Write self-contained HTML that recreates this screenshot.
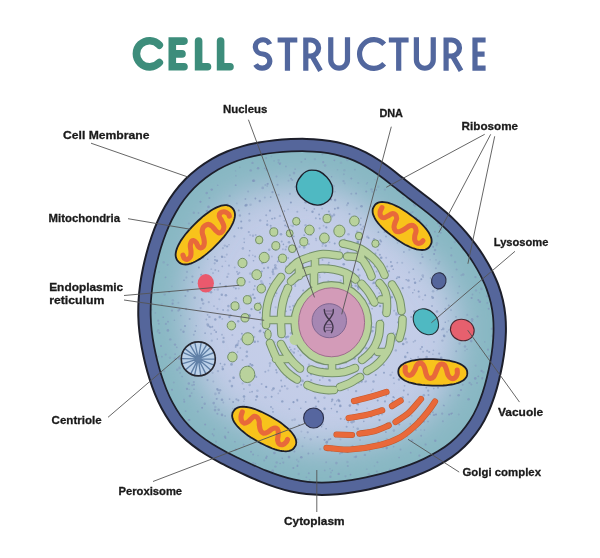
<!DOCTYPE html>
<html><head><meta charset="utf-8"><title>Cell Structure</title>
<style>
html,body{margin:0;padding:0;background:#fff;}
body{width:600px;height:558px;overflow:hidden;}
svg{display:block;}
text{font-family:"Liberation Sans",sans-serif;}
</style></head><body>
<svg width="600" height="558" viewBox="0 0 600 558">
<defs>
<radialGradient id="cyto" gradientUnits="userSpaceOnUse" cx="325" cy="318" r="185" gradientTransform="translate(325 318) scale(1 0.97) translate(-325 -318)">
<stop offset="0" stop-color="#c8d0ea"/>
<stop offset="0.6" stop-color="#c2cce7"/>
<stop offset="1" stop-color="#b4c4de"/>
</radialGradient>
<filter id="blur" x="-10%" y="-10%" width="120%" height="120%"><feGaussianBlur stdDeviation="16"/></filter>
<clipPath id="cc"><path d="M138.3,316C138.2,310.7 138.3,305.4 138.6,300C138.9,294.6 139.5,289.2 140.2,283.9C140.9,278.6 141.9,273.3 143,268C144.1,262.7 145.4,257.4 146.8,252.2C148.2,246.9 149.8,241.7 151.6,236.5C153.4,231.3 155.3,226.2 157.6,221.1C159.8,216 162.3,211 165.1,206.2C167.9,201.4 170.9,196.6 174.3,192.1C177.7,187.6 181.4,183.3 185.3,179.3C189.2,175.3 193.5,171.6 197.9,168.2C202.3,164.8 207.2,161.6 212,158.8C216.8,156 221.9,153.6 227,151.5C232.1,149.4 237.5,147.6 242.8,146.1C248.1,144.6 253.5,143.5 258.8,142.5C264.1,141.5 269.6,140.8 274.9,140.2C280.2,139.6 285.5,139.3 290.8,139.1C296.1,138.9 301.3,138.8 306.5,138.9C311.7,139 316.9,139.4 322,139.9C327.1,140.4 332.2,141.1 337.2,142.2C342.2,143.3 347.1,144.7 351.9,146.4C356.7,148.1 361.3,150.1 365.8,152.4C370.3,154.7 374.6,157.3 378.8,160C383,162.7 386.9,165.6 390.8,168.5C394.7,171.4 398.3,174.5 402,177.4C405.7,180.3 409.3,183.2 413,186C416.7,188.8 420.3,191.7 424,194.5C427.7,197.3 431.4,200.1 435,203C438.6,205.9 442.2,208.9 445.8,212.1C449.4,215.2 453,218.5 456.4,221.9C459.8,225.3 463.1,228.9 466.3,232.7C469.5,236.4 472.6,240.4 475.6,244.4C478.6,248.4 481.5,252.5 484.2,256.9C486.9,261.2 489.5,265.8 491.9,270.5C494.2,275.2 496.5,279.9 498.3,284.9C500.1,289.8 501.7,295 502.9,300.2C504.1,305.4 504.9,310.7 505.4,316C505.9,321.3 506,326.7 505.9,332.1C505.8,337.5 505.4,342.8 504.8,348.2C504.2,353.6 503.4,358.9 502.4,364.3C501.4,369.7 500.2,375 498.9,380.4C497.6,385.8 496.1,391.1 494.4,396.4C492.6,401.7 490.7,407 488.4,412.1C486.1,417.2 483.5,422.3 480.5,427C477.5,431.7 474,436.3 470.3,440.5C466.6,444.7 462.5,448.6 458.2,452.2C453.9,455.8 449.1,459 444.4,461.9C439.6,464.8 434.7,467.4 429.7,469.8C424.7,472.2 419.6,474.3 414.5,476.2C409.4,478.1 404.2,479.8 399.1,481.4C394,483 388.9,484.5 383.8,485.8C378.7,487.1 373.6,488.3 368.5,489.4C363.4,490.5 358.2,491.5 353.1,492.3C348,493.1 342.8,493.8 337.6,494.2C332.4,494.6 327.2,494.9 322,494.9C316.8,494.9 311.6,494.7 306.4,494.1C301.2,493.5 296.1,492.6 291,491.5C285.9,490.4 281,489 276.1,487.4C271.2,485.8 266.4,484 261.6,482.1C256.8,480.2 252.1,478.1 247.4,476C242.7,473.9 238.1,471.7 233.4,469.4C228.8,467.1 224.1,464.9 219.5,462.4C214.9,459.9 210.3,457.3 205.8,454.5C201.3,451.7 196.8,448.7 192.6,445.4C188.4,442.1 184.2,438.5 180.5,434.7C176.8,430.9 173.3,426.7 170.2,422.3C167.1,417.9 164.2,413.2 161.7,408.5C159.1,403.8 156.9,398.8 154.9,393.9C152.9,388.9 151.1,383.9 149.5,378.8C147.9,373.7 146.5,368.6 145.2,363.4C143.9,358.2 142.8,353 141.8,347.8C140.8,342.6 140,337.3 139.4,332C138.8,326.7 138.4,321.3 138.3,316Z"/></clipPath>
</defs>
<rect width="600" height="558" fill="#fff"/>
<g fill="none" stroke="#3d8d7b" stroke-width="7.6" stroke-linecap="round" stroke-linejoin="miter">
<path d="M159.3,45.1 A13.1,13.1 0 1 0 159.3,62.5"/>
<path d="M184,41.1 H172.3 V66.7 H184 M172.3,53.9 H182"/>
<path d="M198.6,41.1 V66.7 H207.5"/>
<path d="M220.6,41.1 V66.7 H230"/>
</g>
<g fill="none" stroke="#52679e" stroke-width="5.2" stroke-linecap="butt" stroke-linejoin="miter">
<path d="M269.8,44.2 A7.5,7.1 0 1 0 262.7,54 A7.5,7.1 0 1 1 255.6,64.4"/>
<path d="M277.6,40 H297.3 M287.45,40 V70.7"/>
<path d="M305.8,70.7 V40 H310.6 A8,8 0 0 1 310.6,56 H305.8 M312,56 L320.5,70.7"/>
<path d="M330.75,37.3 V59.8 A8.375,8.375 0 0 0 347.5,59.8 V37.3"/>
<path d="M384.2,44.3 A14.2,14.4 0 1 0 384.2,63.8"/>
<path d="M388.85,40 H408.6 M398.7,40 V70.7"/>
<path d="M416.4,37.3 V59.8 A8.425,8.425 0 0 0 433.25,59.8 V37.3"/>
<path d="M446.1,70.7 V40 H451.5 A8,8 0 0 1 451.5,56 H446.1 M452.5,56 L461,70.7"/>
<path d="M485.6,40 H475 V68.1 H485.6 M475,54.1 H484.6"/>
</g>
<g clip-path="url(#cc)"><path d="M138.3,316C138.2,310.7 138.3,305.4 138.6,300C138.9,294.6 139.5,289.2 140.2,283.9C140.9,278.6 141.9,273.3 143,268C144.1,262.7 145.4,257.4 146.8,252.2C148.2,246.9 149.8,241.7 151.6,236.5C153.4,231.3 155.3,226.2 157.6,221.1C159.8,216 162.3,211 165.1,206.2C167.9,201.4 170.9,196.6 174.3,192.1C177.7,187.6 181.4,183.3 185.3,179.3C189.2,175.3 193.5,171.6 197.9,168.2C202.3,164.8 207.2,161.6 212,158.8C216.8,156 221.9,153.6 227,151.5C232.1,149.4 237.5,147.6 242.8,146.1C248.1,144.6 253.5,143.5 258.8,142.5C264.1,141.5 269.6,140.8 274.9,140.2C280.2,139.6 285.5,139.3 290.8,139.1C296.1,138.9 301.3,138.8 306.5,138.9C311.7,139 316.9,139.4 322,139.9C327.1,140.4 332.2,141.1 337.2,142.2C342.2,143.3 347.1,144.7 351.9,146.4C356.7,148.1 361.3,150.1 365.8,152.4C370.3,154.7 374.6,157.3 378.8,160C383,162.7 386.9,165.6 390.8,168.5C394.7,171.4 398.3,174.5 402,177.4C405.7,180.3 409.3,183.2 413,186C416.7,188.8 420.3,191.7 424,194.5C427.7,197.3 431.4,200.1 435,203C438.6,205.9 442.2,208.9 445.8,212.1C449.4,215.2 453,218.5 456.4,221.9C459.8,225.3 463.1,228.9 466.3,232.7C469.5,236.4 472.6,240.4 475.6,244.4C478.6,248.4 481.5,252.5 484.2,256.9C486.9,261.2 489.5,265.8 491.9,270.5C494.2,275.2 496.5,279.9 498.3,284.9C500.1,289.8 501.7,295 502.9,300.2C504.1,305.4 504.9,310.7 505.4,316C505.9,321.3 506,326.7 505.9,332.1C505.8,337.5 505.4,342.8 504.8,348.2C504.2,353.6 503.4,358.9 502.4,364.3C501.4,369.7 500.2,375 498.9,380.4C497.6,385.8 496.1,391.1 494.4,396.4C492.6,401.7 490.7,407 488.4,412.1C486.1,417.2 483.5,422.3 480.5,427C477.5,431.7 474,436.3 470.3,440.5C466.6,444.7 462.5,448.6 458.2,452.2C453.9,455.8 449.1,459 444.4,461.9C439.6,464.8 434.7,467.4 429.7,469.8C424.7,472.2 419.6,474.3 414.5,476.2C409.4,478.1 404.2,479.8 399.1,481.4C394,483 388.9,484.5 383.8,485.8C378.7,487.1 373.6,488.3 368.5,489.4C363.4,490.5 358.2,491.5 353.1,492.3C348,493.1 342.8,493.8 337.6,494.2C332.4,494.6 327.2,494.9 322,494.9C316.8,494.9 311.6,494.7 306.4,494.1C301.2,493.5 296.1,492.6 291,491.5C285.9,490.4 281,489 276.1,487.4C271.2,485.8 266.4,484 261.6,482.1C256.8,480.2 252.1,478.1 247.4,476C242.7,473.9 238.1,471.7 233.4,469.4C228.8,467.1 224.1,464.9 219.5,462.4C214.9,459.9 210.3,457.3 205.8,454.5C201.3,451.7 196.8,448.7 192.6,445.4C188.4,442.1 184.2,438.5 180.5,434.7C176.8,430.9 173.3,426.7 170.2,422.3C167.1,417.9 164.2,413.2 161.7,408.5C159.1,403.8 156.9,398.8 154.9,393.9C152.9,388.9 151.1,383.9 149.5,378.8C147.9,373.7 146.5,368.6 145.2,363.4C143.9,358.2 142.8,353 141.8,347.8C140.8,342.6 140,337.3 139.4,332C138.8,326.7 138.4,321.3 138.3,316Z" fill="url(#cyto)"/><path d="M138.3,316C138.2,310.7 138.3,305.4 138.6,300C138.9,294.6 139.5,289.2 140.2,283.9C140.9,278.6 141.9,273.3 143,268C144.1,262.7 145.4,257.4 146.8,252.2C148.2,246.9 149.8,241.7 151.6,236.5C153.4,231.3 155.3,226.2 157.6,221.1C159.8,216 162.3,211 165.1,206.2C167.9,201.4 170.9,196.6 174.3,192.1C177.7,187.6 181.4,183.3 185.3,179.3C189.2,175.3 193.5,171.6 197.9,168.2C202.3,164.8 207.2,161.6 212,158.8C216.8,156 221.9,153.6 227,151.5C232.1,149.4 237.5,147.6 242.8,146.1C248.1,144.6 253.5,143.5 258.8,142.5C264.1,141.5 269.6,140.8 274.9,140.2C280.2,139.6 285.5,139.3 290.8,139.1C296.1,138.9 301.3,138.8 306.5,138.9C311.7,139 316.9,139.4 322,139.9C327.1,140.4 332.2,141.1 337.2,142.2C342.2,143.3 347.1,144.7 351.9,146.4C356.7,148.1 361.3,150.1 365.8,152.4C370.3,154.7 374.6,157.3 378.8,160C383,162.7 386.9,165.6 390.8,168.5C394.7,171.4 398.3,174.5 402,177.4C405.7,180.3 409.3,183.2 413,186C416.7,188.8 420.3,191.7 424,194.5C427.7,197.3 431.4,200.1 435,203C438.6,205.9 442.2,208.9 445.8,212.1C449.4,215.2 453,218.5 456.4,221.9C459.8,225.3 463.1,228.9 466.3,232.7C469.5,236.4 472.6,240.4 475.6,244.4C478.6,248.4 481.5,252.5 484.2,256.9C486.9,261.2 489.5,265.8 491.9,270.5C494.2,275.2 496.5,279.9 498.3,284.9C500.1,289.8 501.7,295 502.9,300.2C504.1,305.4 504.9,310.7 505.4,316C505.9,321.3 506,326.7 505.9,332.1C505.8,337.5 505.4,342.8 504.8,348.2C504.2,353.6 503.4,358.9 502.4,364.3C501.4,369.7 500.2,375 498.9,380.4C497.6,385.8 496.1,391.1 494.4,396.4C492.6,401.7 490.7,407 488.4,412.1C486.1,417.2 483.5,422.3 480.5,427C477.5,431.7 474,436.3 470.3,440.5C466.6,444.7 462.5,448.6 458.2,452.2C453.9,455.8 449.1,459 444.4,461.9C439.6,464.8 434.7,467.4 429.7,469.8C424.7,472.2 419.6,474.3 414.5,476.2C409.4,478.1 404.2,479.8 399.1,481.4C394,483 388.9,484.5 383.8,485.8C378.7,487.1 373.6,488.3 368.5,489.4C363.4,490.5 358.2,491.5 353.1,492.3C348,493.1 342.8,493.8 337.6,494.2C332.4,494.6 327.2,494.9 322,494.9C316.8,494.9 311.6,494.7 306.4,494.1C301.2,493.5 296.1,492.6 291,491.5C285.9,490.4 281,489 276.1,487.4C271.2,485.8 266.4,484 261.6,482.1C256.8,480.2 252.1,478.1 247.4,476C242.7,473.9 238.1,471.7 233.4,469.4C228.8,467.1 224.1,464.9 219.5,462.4C214.9,459.9 210.3,457.3 205.8,454.5C201.3,451.7 196.8,448.7 192.6,445.4C188.4,442.1 184.2,438.5 180.5,434.7C176.8,430.9 173.3,426.7 170.2,422.3C167.1,417.9 164.2,413.2 161.7,408.5C159.1,403.8 156.9,398.8 154.9,393.9C152.9,388.9 151.1,383.9 149.5,378.8C147.9,373.7 146.5,368.6 145.2,363.4C143.9,358.2 142.8,353 141.8,347.8C140.8,342.6 140,337.3 139.4,332C138.8,326.7 138.4,321.3 138.3,316Z" fill="none" stroke="#87b7c2" stroke-width="90" filter="url(#blur)"/><g fill="#8094bb"><circle cx="305.1" cy="337.8" r="1" opacity="0.55"/><circle cx="452.1" cy="205.8" r="1" opacity="0.63"/><circle cx="250.7" cy="170.4" r="1.2" opacity="0.64"/><circle cx="357.3" cy="279.4" r="1.2" opacity="0.63"/><circle cx="309.3" cy="295.3" r="1.1" opacity="0.46"/><circle cx="232.7" cy="408.6" r="0.8" opacity="0.38"/><circle cx="419.7" cy="280.9" r="1" opacity="0.38"/><circle cx="159.1" cy="272" r="1" opacity="0.38"/><circle cx="369.8" cy="415.9" r="0.8" opacity="0.49"/><circle cx="309.7" cy="311.8" r="0.9" opacity="0.55"/><circle cx="375" cy="179.6" r="0.9" opacity="0.35"/><circle cx="362.8" cy="434.4" r="0.8" opacity="0.39"/><circle cx="352.7" cy="224.8" r="1" opacity="0.63"/><circle cx="186.4" cy="347.7" r="0.9" opacity="0.74"/><circle cx="206.7" cy="193" r="1.3" opacity="0.62"/><circle cx="404.8" cy="194.6" r="1.1" opacity="0.44"/><circle cx="360.3" cy="288.5" r="0.8" opacity="0.58"/><circle cx="233.1" cy="402.1" r="1" opacity="0.72"/><circle cx="357.7" cy="242.8" r="1.2" opacity="0.79"/><circle cx="186.1" cy="309.1" r="1.1" opacity="0.63"/><circle cx="274.6" cy="342.3" r="1" opacity="0.41"/><circle cx="304.4" cy="256.2" r="1.1" opacity="0.61"/><circle cx="316" cy="398.8" r="0.8" opacity="0.38"/><circle cx="339.3" cy="401.1" r="1.2" opacity="0.68"/><circle cx="264.7" cy="168.3" r="0.8" opacity="0.74"/><circle cx="292.3" cy="420.2" r="1.1" opacity="0.36"/><circle cx="260.5" cy="471.5" r="1" opacity="0.55"/><circle cx="359.5" cy="309.7" r="1.2" opacity="0.40"/><circle cx="424.7" cy="373.7" r="0.8" opacity="0.52"/><circle cx="192.3" cy="356.4" r="1.3" opacity="0.76"/><circle cx="380.9" cy="295.8" r="1" opacity="0.53"/><circle cx="231.5" cy="364.4" r="1.3" opacity="0.76"/><circle cx="461.3" cy="275.2" r="1" opacity="0.44"/><circle cx="189.1" cy="263.2" r="0.8" opacity="0.67"/><circle cx="201.7" cy="298.9" r="0.9" opacity="0.72"/><circle cx="279.6" cy="323.6" r="1.2" opacity="0.73"/><circle cx="398.7" cy="341.7" r="1.3" opacity="0.60"/><circle cx="374" cy="282.7" r="1.3" opacity="0.72"/><circle cx="369.7" cy="297.4" r="1.2" opacity="0.64"/><circle cx="440.7" cy="229.4" r="1.3" opacity="0.56"/><circle cx="266.2" cy="386.9" r="1.1" opacity="0.80"/><circle cx="395.4" cy="217.9" r="1.2" opacity="0.52"/><circle cx="304.4" cy="208.3" r="0.8" opacity="0.52"/><circle cx="347.6" cy="451.9" r="1" opacity="0.56"/><circle cx="377.7" cy="211.1" r="1.3" opacity="0.71"/><circle cx="293.8" cy="236.3" r="0.9" opacity="0.71"/><circle cx="203.1" cy="257.6" r="0.9" opacity="0.56"/><circle cx="329.1" cy="380" r="1" opacity="0.61"/><circle cx="391.5" cy="408.5" r="1.1" opacity="0.48"/><circle cx="406" cy="366.1" r="1.3" opacity="0.76"/><circle cx="233.6" cy="377.7" r="1.3" opacity="0.76"/><circle cx="216" cy="441.7" r="1.1" opacity="0.47"/><circle cx="321.6" cy="284.8" r="0.8" opacity="0.62"/><circle cx="328.3" cy="281" r="1.1" opacity="0.40"/><circle cx="479.8" cy="301.8" r="1.3" opacity="0.77"/><circle cx="238.3" cy="306.9" r="1" opacity="0.76"/><circle cx="331.6" cy="176.8" r="0.8" opacity="0.77"/><circle cx="210.8" cy="219.1" r="1" opacity="0.68"/><circle cx="229.2" cy="316.1" r="1.1" opacity="0.41"/><circle cx="326.3" cy="227.4" r="1.1" opacity="0.75"/><circle cx="441.2" cy="357.8" r="1.3" opacity="0.63"/><circle cx="373" cy="327.1" r="1.1" opacity="0.61"/><circle cx="369.2" cy="262.1" r="1.1" opacity="0.49"/><circle cx="188.9" cy="223.4" r="1" opacity="0.52"/><circle cx="298.7" cy="474" r="1.2" opacity="0.41"/><circle cx="213.3" cy="381.6" r="1" opacity="0.40"/><circle cx="324.6" cy="408.7" r="1.2" opacity="0.72"/><circle cx="418.1" cy="357" r="1" opacity="0.42"/><circle cx="207.4" cy="210.8" r="1" opacity="0.77"/><circle cx="487.3" cy="303" r="1" opacity="0.53"/><circle cx="295.7" cy="264.6" r="1" opacity="0.36"/><circle cx="305.7" cy="401.9" r="0.9" opacity="0.62"/><circle cx="258.1" cy="168.3" r="1.3" opacity="0.76"/><circle cx="353.4" cy="259.7" r="1" opacity="0.76"/><circle cx="411.7" cy="415.7" r="1" opacity="0.41"/><circle cx="260.4" cy="330.4" r="1" opacity="0.69"/><circle cx="269.8" cy="366" r="0.9" opacity="0.47"/><circle cx="168" cy="321.7" r="0.9" opacity="0.67"/><circle cx="409.7" cy="229.6" r="0.8" opacity="0.69"/><circle cx="234.4" cy="236.4" r="1.1" opacity="0.58"/><circle cx="493" cy="340.8" r="1.2" opacity="0.55"/><circle cx="375.3" cy="334.1" r="0.8" opacity="0.52"/><circle cx="482.6" cy="275.8" r="1.3" opacity="0.57"/><circle cx="363.1" cy="158.9" r="1" opacity="0.48"/><circle cx="285.5" cy="249.5" r="1" opacity="0.64"/><circle cx="344.6" cy="239.2" r="1" opacity="0.36"/><circle cx="422" cy="347.1" r="1" opacity="0.69"/><circle cx="282.3" cy="458.4" r="0.8" opacity="0.61"/><circle cx="403.9" cy="252" r="0.9" opacity="0.54"/><circle cx="331" cy="472.6" r="1" opacity="0.41"/><circle cx="292.3" cy="180.1" r="1" opacity="0.59"/><circle cx="185.4" cy="296.1" r="1" opacity="0.62"/><circle cx="373.5" cy="381.5" r="1.2" opacity="0.59"/><circle cx="368.1" cy="266.2" r="1.2" opacity="0.68"/><circle cx="323.3" cy="371.1" r="1.2" opacity="0.37"/><circle cx="295.2" cy="360.5" r="1.1" opacity="0.48"/><circle cx="198.7" cy="221.8" r="1" opacity="0.57"/><circle cx="216.9" cy="260.7" r="1.3" opacity="0.74"/><circle cx="432.8" cy="297.7" r="1.3" opacity="0.70"/><circle cx="217.8" cy="289.5" r="1.3" opacity="0.42"/><circle cx="357.8" cy="241.8" r="1.3" opacity="0.76"/><circle cx="296.1" cy="269.8" r="1" opacity="0.39"/><circle cx="170.3" cy="339.4" r="1.2" opacity="0.56"/><circle cx="253.2" cy="463.1" r="1.2" opacity="0.49"/><circle cx="404.6" cy="385.8" r="0.9" opacity="0.45"/><circle cx="379.9" cy="254.8" r="1" opacity="0.67"/><circle cx="347.8" cy="465.9" r="1" opacity="0.55"/><circle cx="433.1" cy="246.8" r="1" opacity="0.79"/><circle cx="387.1" cy="346.8" r="1.2" opacity="0.60"/><circle cx="430.9" cy="331" r="1.1" opacity="0.43"/><circle cx="172.8" cy="300.2" r="1.3" opacity="0.36"/><circle cx="328.2" cy="332.3" r="0.8" opacity="0.64"/><circle cx="371.5" cy="189.4" r="1.2" opacity="0.54"/><circle cx="400" cy="312.6" r="1" opacity="0.69"/><circle cx="283.9" cy="258.6" r="1.2" opacity="0.41"/><circle cx="365.6" cy="154.5" r="1.2" opacity="0.51"/><circle cx="172.6" cy="303.9" r="0.8" opacity="0.59"/><circle cx="399.2" cy="424.4" r="1" opacity="0.76"/><circle cx="229.7" cy="195.9" r="1.2" opacity="0.43"/><circle cx="214.6" cy="289.7" r="0.8" opacity="0.56"/><circle cx="315.6" cy="423.7" r="0.9" opacity="0.43"/><circle cx="219.3" cy="222" r="1.1" opacity="0.58"/><circle cx="301.3" cy="457.3" r="1.3" opacity="0.77"/><circle cx="368.8" cy="474.3" r="1.3" opacity="0.47"/><circle cx="264.9" cy="333.4" r="1" opacity="0.74"/><circle cx="430.1" cy="414.4" r="0.8" opacity="0.65"/><circle cx="312.5" cy="270.6" r="1.2" opacity="0.54"/><circle cx="459.3" cy="286.4" r="0.9" opacity="0.47"/><circle cx="457.3" cy="322.3" r="1.1" opacity="0.47"/><circle cx="335.1" cy="191.8" r="0.8" opacity="0.44"/><circle cx="186.9" cy="263.6" r="1.1" opacity="0.39"/><circle cx="315.2" cy="305.3" r="1.1" opacity="0.59"/><circle cx="208.5" cy="206.9" r="1.3" opacity="0.72"/><circle cx="216.1" cy="332" r="0.9" opacity="0.78"/><circle cx="288" cy="336.6" r="1.2" opacity="0.67"/><circle cx="283.9" cy="302.8" r="1.3" opacity="0.40"/><circle cx="302.5" cy="446.3" r="1" opacity="0.46"/><circle cx="215.5" cy="357.9" r="1" opacity="0.77"/><circle cx="253" cy="235.7" r="1.2" opacity="0.50"/><circle cx="387.4" cy="390.9" r="1" opacity="0.37"/><circle cx="309.1" cy="389.3" r="0.8" opacity="0.42"/><circle cx="476" cy="290.4" r="1.2" opacity="0.44"/><circle cx="194" cy="384.8" r="1" opacity="0.63"/><circle cx="405.3" cy="356.9" r="1.3" opacity="0.71"/><circle cx="260.8" cy="260.2" r="0.8" opacity="0.60"/><circle cx="214.8" cy="256.8" r="0.8" opacity="0.63"/><circle cx="197.8" cy="411.6" r="1.1" opacity="0.46"/><circle cx="363.4" cy="321.3" r="0.9" opacity="0.79"/><circle cx="328.4" cy="393.4" r="0.9" opacity="0.61"/><circle cx="423.5" cy="186.7" r="1" opacity="0.66"/><circle cx="309" cy="182.3" r="0.9" opacity="0.46"/><circle cx="347.8" cy="333" r="1" opacity="0.43"/><circle cx="272.7" cy="408.7" r="0.9" opacity="0.43"/><circle cx="385" cy="401.4" r="1.1" opacity="0.64"/><circle cx="288.1" cy="258" r="0.9" opacity="0.61"/><circle cx="384.9" cy="189.7" r="1.1" opacity="0.40"/><circle cx="266.1" cy="458.1" r="1.1" opacity="0.69"/><circle cx="414.4" cy="311.4" r="1.3" opacity="0.76"/><circle cx="260.6" cy="323.9" r="0.8" opacity="0.49"/><circle cx="468.6" cy="399.3" r="1.3" opacity="0.71"/><circle cx="313.6" cy="175.6" r="1.1" opacity="0.49"/><circle cx="383" cy="447.3" r="1.3" opacity="0.42"/><circle cx="377.1" cy="288.5" r="0.8" opacity="0.39"/><circle cx="229" cy="244.8" r="0.8" opacity="0.55"/><circle cx="304.3" cy="327.4" r="1.2" opacity="0.61"/><circle cx="468" cy="247.9" r="1.3" opacity="0.79"/><circle cx="312.5" cy="211.7" r="1.2" opacity="0.75"/><circle cx="312.5" cy="199.4" r="1.1" opacity="0.44"/><circle cx="370.8" cy="206.4" r="0.8" opacity="0.64"/><circle cx="251.7" cy="429.9" r="1" opacity="0.74"/><circle cx="400.3" cy="186.2" r="1.3" opacity="0.55"/><circle cx="252.1" cy="391.7" r="0.9" opacity="0.67"/><circle cx="323" cy="243.5" r="1.3" opacity="0.65"/><circle cx="249.8" cy="468.8" r="1" opacity="0.41"/><circle cx="383.7" cy="303.2" r="1.1" opacity="0.38"/><circle cx="354.1" cy="329.8" r="1.1" opacity="0.39"/><circle cx="241.9" cy="333.7" r="0.9" opacity="0.79"/><circle cx="152.3" cy="302.8" r="1" opacity="0.35"/><circle cx="472" cy="252.5" r="0.8" opacity="0.58"/><circle cx="324.6" cy="439.8" r="1.1" opacity="0.68"/><circle cx="334.1" cy="350" r="0.8" opacity="0.62"/><circle cx="225.9" cy="295.2" r="1.3" opacity="0.67"/><circle cx="403.4" cy="230.7" r="1.3" opacity="0.61"/><circle cx="322.1" cy="150.6" r="1.2" opacity="0.37"/><circle cx="362" cy="355.3" r="1.1" opacity="0.55"/><circle cx="471.2" cy="341.1" r="1.3" opacity="0.67"/><circle cx="393.9" cy="430.6" r="1.3" opacity="0.47"/><circle cx="354.9" cy="169.6" r="0.9" opacity="0.52"/><circle cx="230.6" cy="315.4" r="1.1" opacity="0.70"/><circle cx="155.4" cy="312.8" r="0.9" opacity="0.42"/><circle cx="283.4" cy="244.4" r="0.8" opacity="0.79"/><circle cx="388.1" cy="394" r="1.1" opacity="0.45"/><circle cx="232.4" cy="335" r="1" opacity="0.39"/><circle cx="222.9" cy="248.2" r="1.1" opacity="0.45"/><circle cx="198.5" cy="346.9" r="1.2" opacity="0.50"/><circle cx="393.6" cy="446.6" r="0.9" opacity="0.56"/><circle cx="283.4" cy="439" r="1.3" opacity="0.37"/><circle cx="292.7" cy="226" r="1.3" opacity="0.42"/><circle cx="214.3" cy="214.6" r="1" opacity="0.56"/><circle cx="318.9" cy="361.7" r="1" opacity="0.44"/><circle cx="279.8" cy="164" r="1" opacity="0.78"/><circle cx="366.7" cy="323.2" r="1.1" opacity="0.53"/><circle cx="481.9" cy="266.4" r="1.2" opacity="0.73"/><circle cx="446.2" cy="298.6" r="1" opacity="0.50"/><circle cx="254" cy="289.4" r="0.9" opacity="0.58"/><circle cx="340.1" cy="250" r="1" opacity="0.42"/><circle cx="214.8" cy="238.1" r="1" opacity="0.41"/><circle cx="328.6" cy="265" r="1" opacity="0.51"/><circle cx="346.6" cy="426.7" r="1" opacity="0.65"/><circle cx="343.7" cy="264.2" r="1.3" opacity="0.74"/><circle cx="296.1" cy="278.1" r="1" opacity="0.77"/><circle cx="243.9" cy="389.1" r="1" opacity="0.44"/><circle cx="420.4" cy="263.2" r="1.1" opacity="0.39"/><circle cx="264.8" cy="288.8" r="1.1" opacity="0.47"/><circle cx="451.3" cy="248.1" r="1" opacity="0.40"/><circle cx="239.3" cy="272.7" r="1" opacity="0.56"/><circle cx="266.7" cy="456.4" r="1" opacity="0.72"/><circle cx="157.4" cy="331.8" r="0.8" opacity="0.47"/><circle cx="189.6" cy="319" r="1" opacity="0.56"/><circle cx="330" cy="468.8" r="0.8" opacity="0.46"/><circle cx="320.2" cy="370.1" r="1.1" opacity="0.72"/><circle cx="462.7" cy="384.7" r="1" opacity="0.51"/><circle cx="463.5" cy="249.9" r="1.2" opacity="0.53"/><circle cx="261.6" cy="384.1" r="1" opacity="0.52"/><circle cx="244.3" cy="405.4" r="0.9" opacity="0.64"/><circle cx="272.2" cy="390.1" r="1.2" opacity="0.41"/><circle cx="304.8" cy="413.6" r="0.9" opacity="0.63"/><circle cx="290.6" cy="310.1" r="1" opacity="0.58"/><circle cx="430.7" cy="278" r="1" opacity="0.52"/><circle cx="389.2" cy="203.5" r="0.9" opacity="0.73"/><circle cx="442.4" cy="340.6" r="1.2" opacity="0.41"/><circle cx="213.3" cy="359.8" r="1.2" opacity="0.43"/><circle cx="188.8" cy="383.5" r="1.2" opacity="0.65"/><circle cx="281.1" cy="380.5" r="0.9" opacity="0.67"/><circle cx="244.4" cy="399.1" r="0.8" opacity="0.53"/><circle cx="164.6" cy="294.6" r="1.2" opacity="0.48"/><circle cx="283" cy="358.5" r="1.1" opacity="0.53"/><circle cx="393.3" cy="332.9" r="0.9" opacity="0.55"/><circle cx="444.4" cy="336.6" r="1" opacity="0.54"/><circle cx="238.6" cy="341.1" r="1" opacity="0.47"/><circle cx="223.1" cy="310.1" r="1" opacity="0.60"/><circle cx="262.7" cy="187.9" r="1.3" opacity="0.53"/><circle cx="344.3" cy="337" r="1.1" opacity="0.65"/><circle cx="367.4" cy="236.9" r="1.3" opacity="0.46"/><circle cx="433.9" cy="341.9" r="0.8" opacity="0.43"/><circle cx="271" cy="407" r="1.1" opacity="0.56"/><circle cx="273" cy="411.8" r="0.9" opacity="0.71"/><circle cx="408.4" cy="280.5" r="1.3" opacity="0.65"/><circle cx="432.9" cy="412.2" r="1" opacity="0.53"/><circle cx="397.4" cy="227.4" r="0.8" opacity="0.35"/><circle cx="191.4" cy="253.5" r="1.1" opacity="0.65"/><circle cx="435.9" cy="268.2" r="1" opacity="0.49"/><circle cx="164.3" cy="371.2" r="1" opacity="0.50"/><circle cx="410.7" cy="213.4" r="1.1" opacity="0.49"/><circle cx="355" cy="344.6" r="1" opacity="0.78"/><circle cx="220.2" cy="283.7" r="0.9" opacity="0.72"/><circle cx="165.5" cy="277.3" r="0.9" opacity="0.70"/><circle cx="406.5" cy="374.5" r="0.8" opacity="0.45"/><circle cx="364.9" cy="454.9" r="1.2" opacity="0.54"/><circle cx="184.3" cy="401.7" r="1" opacity="0.65"/><circle cx="293.1" cy="275.3" r="1.1" opacity="0.59"/><circle cx="332.8" cy="299.2" r="0.8" opacity="0.62"/><circle cx="409.4" cy="249.7" r="1.1" opacity="0.53"/><circle cx="225.5" cy="438" r="0.9" opacity="0.72"/><circle cx="431.2" cy="320.6" r="0.8" opacity="0.43"/><circle cx="328.9" cy="262.5" r="0.8" opacity="0.74"/><circle cx="211.5" cy="237.8" r="0.8" opacity="0.40"/><circle cx="300.8" cy="408.3" r="0.8" opacity="0.71"/><circle cx="452.1" cy="413.2" r="0.8" opacity="0.71"/><circle cx="281.9" cy="441.2" r="1" opacity="0.38"/><circle cx="369.7" cy="450.9" r="0.9" opacity="0.60"/><circle cx="438" cy="387.8" r="1" opacity="0.65"/><circle cx="216.1" cy="212.8" r="0.9" opacity="0.66"/><circle cx="392.5" cy="400.8" r="1" opacity="0.70"/><circle cx="237" cy="271.7" r="1" opacity="0.56"/><circle cx="396.8" cy="221.9" r="1" opacity="0.41"/><circle cx="314.3" cy="208.9" r="0.9" opacity="0.55"/><circle cx="393.6" cy="377.9" r="1" opacity="0.52"/><circle cx="356.6" cy="447.2" r="1" opacity="0.50"/><circle cx="355.6" cy="332.9" r="0.9" opacity="0.39"/><circle cx="272.7" cy="271.7" r="1.2" opacity="0.66"/><circle cx="324.6" cy="309.2" r="0.8" opacity="0.79"/><circle cx="284.2" cy="433.8" r="1.2" opacity="0.40"/><circle cx="379.5" cy="420.1" r="1.1" opacity="0.80"/><circle cx="200.9" cy="369.7" r="1.2" opacity="0.76"/><circle cx="312.9" cy="453.6" r="0.9" opacity="0.36"/><circle cx="268.2" cy="329.3" r="0.8" opacity="0.70"/><circle cx="381.9" cy="320" r="1" opacity="0.70"/><circle cx="219.4" cy="299.3" r="1" opacity="0.41"/><circle cx="323.9" cy="189.4" r="0.9" opacity="0.53"/><circle cx="363.5" cy="446.4" r="1" opacity="0.72"/><circle cx="409.1" cy="272.4" r="1.1" opacity="0.36"/><circle cx="180.2" cy="245.4" r="1.2" opacity="0.69"/><circle cx="423.1" cy="277.1" r="0.9" opacity="0.47"/><circle cx="260" cy="312.6" r="1.1" opacity="0.78"/><circle cx="347.3" cy="316.8" r="1" opacity="0.63"/><circle cx="237.6" cy="352.1" r="0.8" opacity="0.54"/><circle cx="314.1" cy="266" r="1" opacity="0.40"/><circle cx="253.6" cy="327.6" r="1" opacity="0.60"/><circle cx="275.8" cy="250.2" r="0.9" opacity="0.58"/><circle cx="332.3" cy="399.7" r="1.1" opacity="0.78"/><circle cx="358.3" cy="269.7" r="1.1" opacity="0.69"/><circle cx="452.4" cy="214.1" r="1.3" opacity="0.71"/><circle cx="295.3" cy="445" r="1" opacity="0.61"/><circle cx="244.2" cy="238.8" r="1" opacity="0.37"/><circle cx="368" cy="335.1" r="1.2" opacity="0.67"/><circle cx="365.2" cy="381.8" r="1.1" opacity="0.35"/><circle cx="409" cy="287.3" r="1.3" opacity="0.38"/><circle cx="425.2" cy="295.3" r="1" opacity="0.69"/><circle cx="387.2" cy="424" r="1.2" opacity="0.68"/><circle cx="269.9" cy="434.9" r="1.2" opacity="0.40"/><circle cx="291.4" cy="329.5" r="0.8" opacity="0.42"/><circle cx="240" cy="283.5" r="1" opacity="0.44"/><circle cx="396.6" cy="314.5" r="1.3" opacity="0.52"/><circle cx="411" cy="197.4" r="0.9" opacity="0.36"/><circle cx="440.5" cy="370.5" r="1.3" opacity="0.58"/><circle cx="281.8" cy="343" r="1" opacity="0.70"/><circle cx="194" cy="389.3" r="0.8" opacity="0.66"/><circle cx="225.3" cy="231.3" r="1.1" opacity="0.37"/><circle cx="205.6" cy="285.7" r="1" opacity="0.57"/><circle cx="394.9" cy="340.8" r="1" opacity="0.57"/><circle cx="209.4" cy="198.1" r="1" opacity="0.66"/><circle cx="272.9" cy="477.5" r="1" opacity="0.62"/><circle cx="282.2" cy="431.4" r="0.9" opacity="0.62"/><circle cx="338.5" cy="400" r="1.2" opacity="0.67"/><circle cx="355.1" cy="365.9" r="1" opacity="0.77"/><circle cx="272.4" cy="419.1" r="1" opacity="0.66"/><circle cx="266.2" cy="215.2" r="1" opacity="0.60"/><circle cx="267.3" cy="220.9" r="0.8" opacity="0.61"/><circle cx="211.3" cy="269.2" r="0.9" opacity="0.38"/><circle cx="390.1" cy="443.3" r="1.1" opacity="0.59"/><circle cx="299.4" cy="380.6" r="1.2" opacity="0.51"/><circle cx="322.1" cy="208.5" r="1" opacity="0.41"/><circle cx="195.2" cy="331.2" r="0.9" opacity="0.74"/><circle cx="318.7" cy="348.9" r="1.1" opacity="0.75"/><circle cx="255.4" cy="198.5" r="0.9" opacity="0.78"/><circle cx="442.9" cy="383.8" r="1.1" opacity="0.70"/><circle cx="284.3" cy="220.8" r="0.9" opacity="0.51"/><circle cx="235.7" cy="347.1" r="1" opacity="0.58"/><circle cx="268.4" cy="370.6" r="1" opacity="0.43"/><circle cx="194.7" cy="228.5" r="1.3" opacity="0.76"/><circle cx="207.5" cy="380.1" r="1.1" opacity="0.59"/><circle cx="224.8" cy="245.6" r="1.2" opacity="0.44"/><circle cx="173.8" cy="382.4" r="1" opacity="0.45"/><circle cx="275.3" cy="265.3" r="1.3" opacity="0.52"/><circle cx="189.5" cy="419.9" r="1" opacity="0.80"/><circle cx="319.9" cy="218.7" r="0.9" opacity="0.77"/><circle cx="191.7" cy="393.1" r="0.9" opacity="0.46"/><circle cx="396.1" cy="222.6" r="1.2" opacity="0.55"/><circle cx="332.3" cy="330.9" r="1.3" opacity="0.71"/><circle cx="235.6" cy="170.9" r="0.8" opacity="0.38"/><circle cx="252.9" cy="409.6" r="1.1" opacity="0.43"/><circle cx="178.3" cy="310.7" r="1.1" opacity="0.56"/><circle cx="360.1" cy="440" r="0.9" opacity="0.42"/><circle cx="311.2" cy="380.2" r="1.1" opacity="0.53"/><circle cx="431.7" cy="316.2" r="1" opacity="0.36"/><circle cx="264.8" cy="197.4" r="1" opacity="0.47"/><circle cx="365.8" cy="269.9" r="1.1" opacity="0.68"/><circle cx="351.5" cy="356.6" r="1.1" opacity="0.56"/><circle cx="245.4" cy="199" r="0.9" opacity="0.60"/><circle cx="287.3" cy="388.6" r="1.2" opacity="0.39"/><circle cx="390.9" cy="261.9" r="1" opacity="0.69"/><circle cx="432.2" cy="370.3" r="1.2" opacity="0.57"/><circle cx="238.2" cy="343" r="1" opacity="0.38"/><circle cx="255.3" cy="375.7" r="0.9" opacity="0.64"/><circle cx="391.7" cy="297.3" r="1.2" opacity="0.76"/><circle cx="390.1" cy="422.7" r="1.3" opacity="0.48"/><circle cx="380.1" cy="306.1" r="1.2" opacity="0.76"/><circle cx="383.5" cy="177" r="1.3" opacity="0.53"/><circle cx="232.8" cy="355.9" r="1" opacity="0.79"/><circle cx="367.4" cy="182.7" r="0.8" opacity="0.55"/><circle cx="288.8" cy="278.8" r="0.8" opacity="0.61"/><circle cx="378.6" cy="414.8" r="1.1" opacity="0.54"/><circle cx="149.7" cy="328.2" r="1" opacity="0.78"/><circle cx="422.6" cy="257" r="1.1" opacity="0.80"/><circle cx="416.1" cy="325.8" r="1.1" opacity="0.51"/><circle cx="298.4" cy="280.2" r="1" opacity="0.48"/><circle cx="334" cy="214.9" r="1.3" opacity="0.56"/><circle cx="298" cy="382.8" r="1.1" opacity="0.71"/><circle cx="477.5" cy="316.5" r="1.1" opacity="0.59"/><circle cx="402.7" cy="397.5" r="1.3" opacity="0.71"/><circle cx="232.2" cy="460.9" r="0.8" opacity="0.47"/><circle cx="393.5" cy="294.2" r="1" opacity="0.57"/><circle cx="426.4" cy="225.4" r="0.9" opacity="0.66"/><circle cx="364.7" cy="154.6" r="0.9" opacity="0.46"/><circle cx="348.2" cy="281.7" r="1.2" opacity="0.53"/><circle cx="311" cy="175.7" r="1.3" opacity="0.68"/><circle cx="403.2" cy="344" r="1.3" opacity="0.75"/><circle cx="234" cy="420.5" r="1" opacity="0.44"/><circle cx="381.9" cy="211.1" r="0.9" opacity="0.63"/><circle cx="290.1" cy="246.4" r="1" opacity="0.68"/><circle cx="368.3" cy="334.5" r="1.2" opacity="0.75"/><circle cx="286.5" cy="377.6" r="1" opacity="0.45"/><circle cx="360.5" cy="351.5" r="1" opacity="0.55"/><circle cx="378.5" cy="218.7" r="1.1" opacity="0.61"/><circle cx="405.4" cy="339.1" r="1.3" opacity="0.54"/><circle cx="419.7" cy="230.6" r="0.9" opacity="0.74"/><circle cx="412.8" cy="292.8" r="0.8" opacity="0.72"/><circle cx="445.6" cy="277.7" r="1.2" opacity="0.67"/><circle cx="264" cy="268.2" r="1" opacity="0.67"/><circle cx="344.9" cy="332.3" r="0.9" opacity="0.69"/><circle cx="353.4" cy="427.1" r="0.8" opacity="0.47"/><circle cx="347" cy="326.6" r="0.9" opacity="0.77"/><circle cx="429.6" cy="314.5" r="1.3" opacity="0.79"/><circle cx="308.9" cy="336.9" r="0.8" opacity="0.78"/><circle cx="249.6" cy="385" r="1.3" opacity="0.45"/><circle cx="397.4" cy="190.3" r="1.1" opacity="0.36"/><circle cx="276.7" cy="372.6" r="1" opacity="0.63"/><circle cx="161" cy="345.9" r="1" opacity="0.74"/><circle cx="217.1" cy="389.1" r="1" opacity="0.72"/><circle cx="242.7" cy="318.4" r="1.1" opacity="0.45"/><circle cx="366.2" cy="191.6" r="1" opacity="0.70"/><circle cx="206.5" cy="349.6" r="1" opacity="0.51"/><circle cx="397.8" cy="215.1" r="1.3" opacity="0.73"/><circle cx="314.9" cy="159.1" r="1.2" opacity="0.37"/><circle cx="447" cy="331.9" r="0.8" opacity="0.50"/><circle cx="356.6" cy="409.9" r="1.1" opacity="0.74"/><circle cx="204.4" cy="235.3" r="1.2" opacity="0.66"/><circle cx="273" cy="286.7" r="0.9" opacity="0.40"/><circle cx="448.8" cy="305.5" r="1" opacity="0.60"/><circle cx="431.9" cy="296.6" r="0.9" opacity="0.54"/><circle cx="282.4" cy="318" r="1.1" opacity="0.61"/><circle cx="306.5" cy="324.3" r="1.3" opacity="0.60"/><circle cx="308.9" cy="270.6" r="0.8" opacity="0.53"/><circle cx="341.8" cy="452.3" r="1.3" opacity="0.73"/><circle cx="494.4" cy="332" r="1" opacity="0.37"/><circle cx="245.6" cy="265.4" r="1.1" opacity="0.80"/><circle cx="282.2" cy="366.3" r="1.1" opacity="0.80"/><circle cx="467" cy="349.2" r="0.8" opacity="0.61"/><circle cx="203.2" cy="303.6" r="1.2" opacity="0.57"/><circle cx="481.6" cy="370.9" r="1.1" opacity="0.76"/><circle cx="360.5" cy="224.7" r="0.9" opacity="0.78"/><circle cx="343.9" cy="174.2" r="1" opacity="0.43"/><circle cx="265.5" cy="397.2" r="1.3" opacity="0.44"/><circle cx="371.8" cy="357.6" r="0.8" opacity="0.74"/><circle cx="251" cy="451.8" r="1" opacity="0.67"/><circle cx="207.6" cy="314.8" r="0.9" opacity="0.62"/><circle cx="231.9" cy="386.1" r="1.3" opacity="0.65"/><circle cx="183.8" cy="364.2" r="1.2" opacity="0.52"/><circle cx="319.6" cy="275.1" r="0.8" opacity="0.40"/><circle cx="271.3" cy="355.4" r="1" opacity="0.42"/><circle cx="322.6" cy="316.4" r="1.1" opacity="0.63"/><circle cx="303.7" cy="311" r="1.1" opacity="0.74"/><circle cx="310.7" cy="439.3" r="1.2" opacity="0.42"/><circle cx="376.2" cy="189.8" r="0.9" opacity="0.73"/><circle cx="335.5" cy="272.1" r="1.1" opacity="0.69"/><circle cx="481.4" cy="288.9" r="1.3" opacity="0.53"/><circle cx="280" cy="390.8" r="1.2" opacity="0.40"/><circle cx="378.4" cy="232.2" r="0.9" opacity="0.69"/><circle cx="426.3" cy="387.7" r="0.9" opacity="0.63"/><circle cx="343.5" cy="181.1" r="1.2" opacity="0.51"/><circle cx="361" cy="480.3" r="1.1" opacity="0.75"/><circle cx="241.2" cy="221.6" r="1" opacity="0.78"/><circle cx="192.5" cy="282.1" r="0.9" opacity="0.70"/><circle cx="379.3" cy="293.1" r="0.9" opacity="0.50"/><circle cx="361.5" cy="206.3" r="1.3" opacity="0.74"/><circle cx="324.7" cy="354.2" r="1" opacity="0.44"/><circle cx="259.8" cy="236.3" r="1.2" opacity="0.36"/><circle cx="297.4" cy="466.2" r="0.9" opacity="0.68"/><circle cx="293.6" cy="251.4" r="1" opacity="0.68"/><circle cx="425.2" cy="330.2" r="1.3" opacity="0.64"/><circle cx="358.6" cy="382.7" r="1.3" opacity="0.43"/><circle cx="406.7" cy="342.3" r="1.2" opacity="0.38"/><circle cx="307.7" cy="432.3" r="1.1" opacity="0.56"/><circle cx="176.8" cy="347.3" r="0.9" opacity="0.59"/><circle cx="186.8" cy="353.4" r="1" opacity="0.76"/><circle cx="276.1" cy="369.9" r="1" opacity="0.60"/><circle cx="352.5" cy="446.1" r="1" opacity="0.48"/><circle cx="422.6" cy="363.9" r="0.8" opacity="0.55"/><circle cx="451" cy="310.1" r="0.9" opacity="0.58"/><circle cx="361.5" cy="381.5" r="1.3" opacity="0.68"/><circle cx="390.2" cy="469.8" r="1.3" opacity="0.51"/><circle cx="285.9" cy="166.4" r="0.9" opacity="0.55"/><circle cx="280.1" cy="463.5" r="0.8" opacity="0.75"/><circle cx="386.4" cy="214.3" r="1.1" opacity="0.79"/><circle cx="261.3" cy="281.4" r="1.3" opacity="0.44"/><circle cx="374.8" cy="164.2" r="1" opacity="0.63"/><circle cx="256.9" cy="396.5" r="1.3" opacity="0.79"/><circle cx="438" cy="223.2" r="1.1" opacity="0.78"/><circle cx="455.7" cy="226.8" r="1" opacity="0.74"/><circle cx="357.2" cy="231.7" r="1.2" opacity="0.54"/><circle cx="394.2" cy="397.7" r="0.8" opacity="0.58"/><circle cx="224.3" cy="224.9" r="1.3" opacity="0.64"/><circle cx="273.1" cy="269.7" r="1.1" opacity="0.62"/><circle cx="187" cy="388.9" r="1.1" opacity="0.79"/><circle cx="442.9" cy="421.2" r="1" opacity="0.53"/><circle cx="376.6" cy="271.6" r="1" opacity="0.41"/><circle cx="231.4" cy="304.2" r="1" opacity="0.71"/><circle cx="386.8" cy="439.2" r="1.2" opacity="0.37"/><circle cx="280.3" cy="341.1" r="0.9" opacity="0.76"/><circle cx="191.9" cy="365.8" r="0.8" opacity="0.59"/><circle cx="251.5" cy="309.2" r="1.1" opacity="0.71"/><circle cx="305.5" cy="351.7" r="0.8" opacity="0.58"/><circle cx="367.1" cy="408.2" r="0.8" opacity="0.41"/><circle cx="289.9" cy="193.8" r="1.1" opacity="0.48"/><circle cx="254.1" cy="180.7" r="1.3" opacity="0.54"/><circle cx="328.1" cy="392.6" r="1.1" opacity="0.72"/><circle cx="419.2" cy="296.8" r="1.2" opacity="0.37"/><circle cx="253" cy="294.7" r="1.1" opacity="0.61"/><circle cx="369.4" cy="355.7" r="1" opacity="0.71"/><circle cx="420.6" cy="348.9" r="1" opacity="0.50"/><circle cx="161.7" cy="304.3" r="1.1" opacity="0.44"/><circle cx="278.6" cy="194.7" r="1" opacity="0.43"/><circle cx="415.9" cy="430" r="0.9" opacity="0.64"/><circle cx="273.4" cy="290.6" r="0.8" opacity="0.76"/><circle cx="312.9" cy="183.5" r="0.9" opacity="0.48"/><circle cx="449.1" cy="329.9" r="1" opacity="0.36"/><circle cx="423.7" cy="421.4" r="1.2" opacity="0.74"/><circle cx="196.2" cy="325.7" r="0.8" opacity="0.60"/><circle cx="365.7" cy="258.1" r="1" opacity="0.36"/><circle cx="419.3" cy="220.4" r="1.3" opacity="0.77"/><circle cx="213" cy="273.1" r="0.8" opacity="0.68"/><circle cx="250.5" cy="299.3" r="1" opacity="0.40"/><circle cx="265.3" cy="327.5" r="1.3" opacity="0.80"/><circle cx="250.5" cy="295.8" r="1.2" opacity="0.49"/><circle cx="171.9" cy="286.4" r="0.8" opacity="0.37"/><circle cx="244.3" cy="242.4" r="0.8" opacity="0.62"/><circle cx="229.6" cy="399.1" r="0.9" opacity="0.57"/><circle cx="422.9" cy="247.7" r="1" opacity="0.53"/><circle cx="386.1" cy="257.8" r="1" opacity="0.39"/><circle cx="433.4" cy="350.4" r="0.8" opacity="0.51"/><circle cx="302" cy="325.7" r="0.8" opacity="0.53"/><circle cx="281" cy="234.3" r="1.3" opacity="0.66"/><circle cx="445.3" cy="322.2" r="0.8" opacity="0.72"/><circle cx="441.6" cy="329.7" r="0.8" opacity="0.62"/><circle cx="181.1" cy="364.3" r="1" opacity="0.35"/><circle cx="222" cy="399.8" r="1.3" opacity="0.70"/><circle cx="479.6" cy="348.1" r="0.8" opacity="0.37"/><circle cx="315" cy="258.7" r="1" opacity="0.77"/><circle cx="289.8" cy="306.8" r="1.1" opacity="0.49"/><circle cx="452.9" cy="327.2" r="0.9" opacity="0.56"/><circle cx="374.8" cy="354.5" r="1" opacity="0.49"/><circle cx="216.4" cy="398.9" r="0.8" opacity="0.65"/><circle cx="340.1" cy="296.7" r="1.2" opacity="0.61"/><circle cx="186.7" cy="263.4" r="1.3" opacity="0.47"/><circle cx="331.7" cy="374.4" r="1.2" opacity="0.41"/><circle cx="289.7" cy="372.1" r="1.2" opacity="0.38"/><circle cx="407.1" cy="436.4" r="0.8" opacity="0.53"/><circle cx="353.5" cy="383.3" r="0.9" opacity="0.65"/><circle cx="393.2" cy="269.2" r="0.8" opacity="0.69"/><circle cx="278.3" cy="393.4" r="0.9" opacity="0.42"/><circle cx="301.4" cy="431.5" r="0.9" opacity="0.35"/><circle cx="285.2" cy="225.4" r="0.9" opacity="0.79"/><circle cx="433.8" cy="377.2" r="0.9" opacity="0.68"/><circle cx="364" cy="264.5" r="0.8" opacity="0.51"/><circle cx="340.6" cy="156.8" r="1" opacity="0.71"/><circle cx="373" cy="446.1" r="1" opacity="0.38"/><circle cx="375.4" cy="253.6" r="1" opacity="0.62"/><circle cx="451.2" cy="413.7" r="1" opacity="0.76"/><circle cx="371.4" cy="391" r="1" opacity="0.38"/><circle cx="459.6" cy="343.5" r="1.2" opacity="0.41"/><circle cx="358.3" cy="289" r="1" opacity="0.63"/><circle cx="389.6" cy="343.8" r="1" opacity="0.36"/><circle cx="318.3" cy="325.1" r="1.1" opacity="0.51"/><circle cx="289" cy="457.1" r="1.3" opacity="0.70"/><circle cx="395.8" cy="350.4" r="1.2" opacity="0.52"/><circle cx="443.2" cy="328.9" r="1.3" opacity="0.61"/><circle cx="367.9" cy="353.9" r="1" opacity="0.58"/><circle cx="280.4" cy="163" r="1" opacity="0.39"/><circle cx="202.2" cy="300.1" r="1.3" opacity="0.65"/><circle cx="321.1" cy="297.3" r="1.2" opacity="0.47"/><circle cx="259.8" cy="201" r="1.2" opacity="0.70"/><circle cx="351.2" cy="285.6" r="1" opacity="0.74"/><circle cx="284.4" cy="211.1" r="0.8" opacity="0.78"/><circle cx="158" cy="356.6" r="1" opacity="0.47"/><circle cx="352" cy="285.7" r="1" opacity="0.49"/><circle cx="208.8" cy="291.7" r="1" opacity="0.62"/><circle cx="396.3" cy="221" r="1.3" opacity="0.71"/><circle cx="214" cy="243.5" r="1" opacity="0.76"/><circle cx="270" cy="210.7" r="1.1" opacity="0.73"/><circle cx="222.3" cy="266.3" r="0.9" opacity="0.55"/><circle cx="434.9" cy="231.7" r="0.9" opacity="0.61"/><circle cx="440.7" cy="232.7" r="1" opacity="0.59"/><circle cx="315.9" cy="238.5" r="0.8" opacity="0.58"/><circle cx="265.5" cy="445.2" r="0.8" opacity="0.77"/><circle cx="202.1" cy="397.2" r="0.9" opacity="0.80"/><circle cx="228.4" cy="306.1" r="1.3" opacity="0.62"/><circle cx="313.9" cy="178.9" r="0.9" opacity="0.48"/><circle cx="358" cy="347" r="1" opacity="0.57"/><circle cx="388.8" cy="426.6" r="0.9" opacity="0.73"/><circle cx="266.1" cy="158.1" r="1" opacity="0.55"/><circle cx="189.5" cy="235.7" r="1" opacity="0.69"/><circle cx="324.6" cy="190" r="0.8" opacity="0.51"/><circle cx="278.1" cy="318.2" r="1.3" opacity="0.41"/><circle cx="366.9" cy="431.9" r="1.2" opacity="0.38"/><circle cx="295.1" cy="187" r="1.1" opacity="0.38"/><circle cx="302.5" cy="380.9" r="1.3" opacity="0.63"/><circle cx="484.7" cy="341.9" r="0.8" opacity="0.44"/><circle cx="297.5" cy="439.4" r="1.1" opacity="0.38"/><circle cx="448.4" cy="320.8" r="0.9" opacity="0.36"/><circle cx="230" cy="357.4" r="1.2" opacity="0.59"/><circle cx="405.7" cy="338.5" r="0.9" opacity="0.47"/><circle cx="457.3" cy="380.2" r="1" opacity="0.43"/><circle cx="407.9" cy="413.3" r="0.9" opacity="0.46"/><circle cx="272.6" cy="470.9" r="1.3" opacity="0.68"/><circle cx="360.5" cy="239.4" r="1" opacity="0.74"/><circle cx="273.9" cy="293" r="1.1" opacity="0.48"/><circle cx="427.1" cy="350.8" r="1.1" opacity="0.55"/><circle cx="247" cy="343.2" r="1" opacity="0.56"/><circle cx="489.2" cy="356.3" r="1.2" opacity="0.48"/><circle cx="331.1" cy="199.4" r="1.1" opacity="0.71"/><circle cx="324.9" cy="325.4" r="1" opacity="0.68"/><circle cx="364.9" cy="333.9" r="1" opacity="0.49"/><circle cx="418.4" cy="313.9" r="1.1" opacity="0.43"/><circle cx="366.8" cy="275.3" r="0.8" opacity="0.49"/><circle cx="317.5" cy="437.1" r="1" opacity="0.65"/><circle cx="344.4" cy="170.3" r="1.2" opacity="0.37"/><circle cx="315.2" cy="397.6" r="1" opacity="0.58"/><circle cx="270.7" cy="197.1" r="0.9" opacity="0.71"/><circle cx="246.6" cy="370.5" r="1.1" opacity="0.79"/><circle cx="471.6" cy="298.1" r="1" opacity="0.79"/><circle cx="426.6" cy="357" r="1.3" opacity="0.60"/><circle cx="429.2" cy="352" r="1.1" opacity="0.66"/><circle cx="264.5" cy="321.8" r="1.2" opacity="0.46"/><circle cx="265.7" cy="314.3" r="0.9" opacity="0.55"/><circle cx="294" cy="352.7" r="1.1" opacity="0.64"/><circle cx="366.1" cy="381.3" r="1" opacity="0.46"/><circle cx="400.2" cy="293.9" r="1" opacity="0.62"/><circle cx="367.2" cy="274.6" r="1" opacity="0.53"/><circle cx="350.8" cy="324.7" r="1.1" opacity="0.46"/><circle cx="185" cy="325.9" r="1" opacity="0.79"/><circle cx="178.4" cy="302.7" r="1" opacity="0.36"/><circle cx="319.2" cy="483.8" r="1.3" opacity="0.46"/><circle cx="358.5" cy="307.7" r="1.2" opacity="0.40"/><circle cx="319.4" cy="425.5" r="1.1" opacity="0.38"/><circle cx="228" cy="310.2" r="1.2" opacity="0.43"/><circle cx="338" cy="208" r="1.3" opacity="0.62"/><circle cx="259.7" cy="303" r="1.1" opacity="0.63"/><circle cx="302.4" cy="330.1" r="1.3" opacity="0.54"/><circle cx="275.4" cy="466.6" r="1.2" opacity="0.55"/><circle cx="420.5" cy="313.7" r="0.8" opacity="0.53"/><circle cx="421.9" cy="254.4" r="0.8" opacity="0.59"/><circle cx="270.1" cy="277.7" r="0.8" opacity="0.71"/><circle cx="249.5" cy="434" r="1.1" opacity="0.46"/><circle cx="287.2" cy="226.5" r="1" opacity="0.67"/><circle cx="337.6" cy="323.7" r="1.2" opacity="0.40"/><circle cx="319.6" cy="228.3" r="1.1" opacity="0.57"/><circle cx="409.7" cy="193.7" r="0.8" opacity="0.53"/><circle cx="343.4" cy="246" r="1.3" opacity="0.68"/><circle cx="225.1" cy="416" r="0.9" opacity="0.56"/><circle cx="207.6" cy="324.3" r="1.3" opacity="0.43"/><circle cx="331.4" cy="350.8" r="1.2" opacity="0.64"/><circle cx="351.2" cy="308.9" r="1.3" opacity="0.59"/><circle cx="442.2" cy="413.7" r="1.1" opacity="0.59"/><circle cx="372.4" cy="191.8" r="1" opacity="0.54"/><circle cx="227.4" cy="246.4" r="0.9" opacity="0.49"/><circle cx="254.5" cy="297.9" r="1.2" opacity="0.75"/><circle cx="465" cy="346.5" r="1.2" opacity="0.55"/><circle cx="377.8" cy="250.1" r="1" opacity="0.45"/><circle cx="433.1" cy="291.2" r="1.3" opacity="0.48"/><circle cx="385.9" cy="432.1" r="0.9" opacity="0.76"/><circle cx="222.2" cy="256.9" r="1.2" opacity="0.65"/><circle cx="352" cy="347.3" r="1" opacity="0.57"/><circle cx="278.5" cy="162.5" r="0.9" opacity="0.58"/><circle cx="456.6" cy="269.4" r="1" opacity="0.56"/><circle cx="215" cy="410.1" r="1.3" opacity="0.62"/><circle cx="237.5" cy="345.6" r="0.8" opacity="0.51"/><circle cx="331.7" cy="401.3" r="0.9" opacity="0.62"/><circle cx="380.3" cy="240.2" r="1" opacity="0.68"/><circle cx="398.7" cy="207.8" r="1" opacity="0.43"/><circle cx="278.2" cy="257.5" r="0.9" opacity="0.42"/><circle cx="381.1" cy="241.6" r="1" opacity="0.67"/><circle cx="461" cy="389.9" r="1" opacity="0.77"/><circle cx="290.8" cy="349.7" r="1" opacity="0.60"/><circle cx="286" cy="266.3" r="1" opacity="0.38"/><circle cx="294.3" cy="311.1" r="1.2" opacity="0.39"/><circle cx="481.3" cy="252" r="0.9" opacity="0.54"/><circle cx="267.2" cy="224.7" r="1.2" opacity="0.65"/><circle cx="371" cy="416.5" r="1.2" opacity="0.65"/><circle cx="331.4" cy="408.6" r="0.8" opacity="0.76"/><circle cx="316.9" cy="328.3" r="0.9" opacity="0.48"/><circle cx="426.5" cy="318.7" r="1" opacity="0.48"/><circle cx="378.9" cy="326.6" r="1.2" opacity="0.38"/><circle cx="407.5" cy="352.7" r="0.9" opacity="0.77"/><circle cx="348.1" cy="422.2" r="1" opacity="0.48"/><circle cx="425.2" cy="323.9" r="1" opacity="0.56"/><circle cx="273.5" cy="388.5" r="1.3" opacity="0.75"/><circle cx="338.7" cy="473.9" r="1.2" opacity="0.75"/><circle cx="351" cy="422" r="0.8" opacity="0.64"/><circle cx="265.3" cy="371.8" r="1" opacity="0.57"/><circle cx="225" cy="436.8" r="1.2" opacity="0.67"/><circle cx="200.6" cy="308.1" r="1.1" opacity="0.50"/><circle cx="327.6" cy="320.6" r="1" opacity="0.53"/><circle cx="311.1" cy="234.9" r="1.2" opacity="0.42"/><circle cx="170" cy="357.7" r="1.2" opacity="0.37"/><circle cx="255.4" cy="463.7" r="0.8" opacity="0.73"/><circle cx="399.2" cy="277.3" r="1" opacity="0.78"/><circle cx="206.4" cy="319.5" r="0.9" opacity="0.56"/><circle cx="320.2" cy="449.1" r="1.2" opacity="0.38"/><circle cx="217.2" cy="398.7" r="1" opacity="0.41"/><circle cx="183.5" cy="331.8" r="1.2" opacity="0.68"/><circle cx="252.5" cy="162.9" r="1.2" opacity="0.66"/><circle cx="389.2" cy="202.5" r="1" opacity="0.68"/><circle cx="346.1" cy="362.7" r="0.8" opacity="0.73"/><circle cx="395.9" cy="211.9" r="0.8" opacity="0.72"/><circle cx="349.9" cy="405.6" r="1.3" opacity="0.69"/><circle cx="308.6" cy="297.2" r="1.3" opacity="0.50"/><circle cx="300" cy="187.8" r="1" opacity="0.75"/><circle cx="359.5" cy="359.2" r="1.1" opacity="0.77"/><circle cx="332" cy="216.3" r="1.2" opacity="0.55"/><circle cx="218.9" cy="236.1" r="1.2" opacity="0.48"/><circle cx="478.3" cy="376.3" r="0.9" opacity="0.70"/><circle cx="308.9" cy="244" r="0.9" opacity="0.63"/><circle cx="271.1" cy="293.7" r="1.2" opacity="0.62"/><circle cx="360.6" cy="331.6" r="1.1" opacity="0.55"/><circle cx="343" cy="341.7" r="1" opacity="0.61"/><circle cx="386" cy="236.6" r="1" opacity="0.52"/><circle cx="324.6" cy="272.4" r="1.1" opacity="0.76"/><circle cx="270.9" cy="233.2" r="0.9" opacity="0.79"/><circle cx="475.3" cy="378.4" r="1.3" opacity="0.76"/><circle cx="434.4" cy="327.8" r="1" opacity="0.80"/><circle cx="228.4" cy="273.9" r="1.1" opacity="0.35"/><circle cx="422.8" cy="299.8" r="0.8" opacity="0.48"/><circle cx="174.8" cy="358.5" r="1.2" opacity="0.39"/><circle cx="423.7" cy="319" r="1.2" opacity="0.56"/><circle cx="456.2" cy="351.2" r="1" opacity="0.54"/><circle cx="357.2" cy="346.8" r="1" opacity="0.70"/><circle cx="368.7" cy="158.8" r="1" opacity="0.44"/><circle cx="325.5" cy="330.1" r="1.1" opacity="0.70"/><circle cx="283.3" cy="462.6" r="1.1" opacity="0.55"/><circle cx="203.1" cy="241.9" r="0.8" opacity="0.64"/><circle cx="297.3" cy="386.6" r="1.2" opacity="0.56"/><circle cx="205.1" cy="333.2" r="0.9" opacity="0.61"/><circle cx="358.3" cy="331.6" r="1" opacity="0.71"/><circle cx="359" cy="357.9" r="1.1" opacity="0.77"/><circle cx="285.9" cy="311.3" r="1" opacity="0.61"/><circle cx="303.6" cy="310" r="1" opacity="0.75"/><circle cx="322.3" cy="424.2" r="1.3" opacity="0.50"/><circle cx="437" cy="290.5" r="0.8" opacity="0.46"/><circle cx="321.6" cy="426.7" r="0.8" opacity="0.68"/><circle cx="392.8" cy="402.5" r="1.3" opacity="0.62"/><circle cx="381.2" cy="334.3" r="1.1" opacity="0.49"/><circle cx="209.4" cy="316.9" r="1.2" opacity="0.51"/><circle cx="321.1" cy="252.1" r="1.3" opacity="0.53"/><circle cx="388.2" cy="305.6" r="1.2" opacity="0.53"/><circle cx="259.9" cy="331.2" r="1.3" opacity="0.63"/><circle cx="324.5" cy="318.9" r="1.3" opacity="0.77"/><circle cx="234.9" cy="441.8" r="0.8" opacity="0.79"/><circle cx="356.1" cy="415.8" r="0.9" opacity="0.68"/><circle cx="354.2" cy="456.9" r="0.8" opacity="0.38"/><circle cx="330.4" cy="438.9" r="1" opacity="0.78"/><circle cx="203.2" cy="230.5" r="1" opacity="0.52"/><circle cx="239.8" cy="167.4" r="0.8" opacity="0.36"/><circle cx="458.7" cy="414.4" r="1" opacity="0.42"/><circle cx="472.1" cy="319.2" r="1.3" opacity="0.64"/><circle cx="208.8" cy="302.2" r="1.1" opacity="0.48"/><circle cx="336.1" cy="351.8" r="1" opacity="0.68"/><circle cx="254.8" cy="286" r="0.9" opacity="0.61"/><circle cx="439.2" cy="353.6" r="1.1" opacity="0.63"/><circle cx="273.2" cy="440.4" r="1.1" opacity="0.73"/><circle cx="448.7" cy="368.8" r="1.1" opacity="0.41"/><circle cx="366.6" cy="183.9" r="0.8" opacity="0.38"/><circle cx="468.4" cy="325.5" r="1.3" opacity="0.77"/><circle cx="262.4" cy="263" r="1.2" opacity="0.70"/><circle cx="267.5" cy="310.2" r="1.1" opacity="0.72"/><circle cx="312.1" cy="345.6" r="1" opacity="0.55"/><circle cx="279.9" cy="215.9" r="1.2" opacity="0.43"/><circle cx="444.6" cy="383.1" r="0.9" opacity="0.37"/><circle cx="278.6" cy="201.5" r="0.8" opacity="0.36"/><circle cx="267.9" cy="183.6" r="0.9" opacity="0.54"/><circle cx="249.7" cy="250.8" r="0.8" opacity="0.80"/><circle cx="400.7" cy="400.9" r="1.1" opacity="0.64"/><circle cx="338.8" cy="311.7" r="1.2" opacity="0.72"/><circle cx="421.6" cy="330.6" r="1.1" opacity="0.76"/><circle cx="363.6" cy="226.6" r="1.2" opacity="0.49"/><circle cx="295.9" cy="344.4" r="1" opacity="0.72"/><circle cx="263.2" cy="423.5" r="1.3" opacity="0.47"/><circle cx="428.5" cy="395.1" r="1" opacity="0.66"/><circle cx="275.3" cy="268.8" r="1.3" opacity="0.38"/><circle cx="348.1" cy="389.9" r="0.8" opacity="0.39"/><circle cx="248.8" cy="232" r="1.1" opacity="0.55"/><circle cx="403.8" cy="390.5" r="1" opacity="0.63"/><circle cx="289" cy="242.3" r="1.3" opacity="0.61"/><circle cx="349.5" cy="214.1" r="1" opacity="0.68"/><circle cx="318.5" cy="175.6" r="1" opacity="0.39"/><circle cx="235.9" cy="345.6" r="1" opacity="0.71"/><circle cx="255.1" cy="256.4" r="1" opacity="0.58"/><circle cx="403.7" cy="325.8" r="0.9" opacity="0.60"/><circle cx="363.2" cy="303.6" r="1.1" opacity="0.79"/><circle cx="471.3" cy="384.6" r="1" opacity="0.62"/><circle cx="238" cy="274" r="1.1" opacity="0.64"/><circle cx="260.2" cy="220.4" r="1.2" opacity="0.51"/><circle cx="424" cy="370.2" r="1" opacity="0.42"/><circle cx="330.4" cy="476.8" r="1.2" opacity="0.62"/><circle cx="394.1" cy="310.7" r="1" opacity="0.46"/><circle cx="451.3" cy="255.4" r="1.1" opacity="0.57"/><circle cx="211.6" cy="282.9" r="0.8" opacity="0.36"/><circle cx="184.1" cy="261.3" r="0.9" opacity="0.59"/><circle cx="222.4" cy="366.8" r="1.1" opacity="0.44"/><circle cx="194.3" cy="369.7" r="1.1" opacity="0.73"/><circle cx="255.9" cy="399.9" r="0.8" opacity="0.79"/><circle cx="418.2" cy="418.9" r="1" opacity="0.69"/><circle cx="377.7" cy="400.6" r="1" opacity="0.77"/><circle cx="416" cy="218.1" r="1.3" opacity="0.75"/><circle cx="373.6" cy="211.7" r="0.9" opacity="0.71"/><circle cx="244.7" cy="281.2" r="1.2" opacity="0.54"/><circle cx="167.9" cy="330.4" r="1.3" opacity="0.72"/><circle cx="329.9" cy="380.5" r="1.3" opacity="0.50"/><circle cx="438.6" cy="263.5" r="1.2" opacity="0.52"/><circle cx="488.7" cy="308.8" r="1" opacity="0.73"/><circle cx="395.8" cy="334.2" r="1" opacity="0.64"/><circle cx="179.2" cy="358.4" r="1.3" opacity="0.75"/><circle cx="355.7" cy="285.7" r="1.3" opacity="0.56"/><circle cx="436" cy="259.9" r="0.8" opacity="0.45"/><circle cx="281.1" cy="440.2" r="0.9" opacity="0.66"/><circle cx="350.2" cy="283.7" r="1.2" opacity="0.38"/><circle cx="311.5" cy="289.2" r="1.1" opacity="0.56"/><circle cx="360.6" cy="308.4" r="1" opacity="0.42"/><circle cx="282.3" cy="401.4" r="1.2" opacity="0.73"/><circle cx="453.9" cy="212" r="1.1" opacity="0.70"/><circle cx="215.3" cy="270" r="1" opacity="0.47"/><circle cx="200.3" cy="241.6" r="1" opacity="0.39"/><circle cx="286" cy="299" r="1" opacity="0.59"/><circle cx="200.5" cy="201.8" r="1.1" opacity="0.75"/><circle cx="214.5" cy="330.2" r="0.9" opacity="0.56"/><circle cx="410.8" cy="358.5" r="0.8" opacity="0.62"/><circle cx="306.9" cy="389.7" r="0.8" opacity="0.47"/><circle cx="455.1" cy="333" r="0.8" opacity="0.48"/><circle cx="319.9" cy="334" r="1.1" opacity="0.56"/><circle cx="341" cy="362.3" r="1.2" opacity="0.76"/><circle cx="336.4" cy="463.1" r="1.3" opacity="0.53"/><circle cx="482.2" cy="379" r="0.8" opacity="0.55"/><circle cx="444.1" cy="335.8" r="1.3" opacity="0.76"/><circle cx="254.7" cy="341.8" r="1.3" opacity="0.72"/><circle cx="387.2" cy="266.6" r="1" opacity="0.54"/><circle cx="286.4" cy="246.8" r="1" opacity="0.52"/><circle cx="326" cy="237.7" r="0.9" opacity="0.60"/><circle cx="335.1" cy="200.1" r="1.3" opacity="0.64"/><circle cx="215.4" cy="406.9" r="1.2" opacity="0.38"/><circle cx="187.5" cy="358.3" r="0.9" opacity="0.39"/><circle cx="428.9" cy="232.8" r="0.9" opacity="0.63"/><circle cx="423.8" cy="395.3" r="1.3" opacity="0.58"/><circle cx="250.1" cy="235.1" r="0.8" opacity="0.55"/><circle cx="388.5" cy="221.8" r="1" opacity="0.60"/><circle cx="214.7" cy="263.3" r="1.1" opacity="0.51"/><circle cx="265.3" cy="185" r="1" opacity="0.47"/><circle cx="249.9" cy="392.2" r="0.8" opacity="0.59"/><circle cx="234.7" cy="267.5" r="1" opacity="0.44"/><circle cx="203.4" cy="374.1" r="1.1" opacity="0.38"/><circle cx="355.9" cy="310.7" r="1.3" opacity="0.40"/><circle cx="307.4" cy="375.9" r="1" opacity="0.57"/><circle cx="281.9" cy="386.6" r="1" opacity="0.69"/><circle cx="393.3" cy="397" r="1" opacity="0.73"/><circle cx="465.6" cy="221.9" r="0.8" opacity="0.47"/><circle cx="412.6" cy="212.1" r="1" opacity="0.44"/><circle cx="226.8" cy="254.6" r="1.1" opacity="0.40"/><circle cx="334.8" cy="404.5" r="1" opacity="0.58"/><circle cx="153.7" cy="350.1" r="1" opacity="0.56"/><circle cx="190.9" cy="263.9" r="0.8" opacity="0.46"/><circle cx="409.3" cy="402" r="1" opacity="0.42"/><circle cx="223.4" cy="341.9" r="1.3" opacity="0.64"/><circle cx="342.7" cy="372.7" r="1.2" opacity="0.61"/><circle cx="217.3" cy="339.1" r="0.8" opacity="0.64"/><circle cx="240.3" cy="406.9" r="1.2" opacity="0.64"/><circle cx="189.1" cy="389.5" r="0.8" opacity="0.41"/><circle cx="244" cy="396.5" r="1.3" opacity="0.76"/><circle cx="358.1" cy="404.4" r="1" opacity="0.70"/><circle cx="325.7" cy="245.7" r="1.2" opacity="0.64"/><circle cx="165.9" cy="323.9" r="1.1" opacity="0.55"/><circle cx="183.9" cy="260.1" r="0.9" opacity="0.47"/><circle cx="464" cy="333" r="1" opacity="0.60"/><circle cx="418.1" cy="231.9" r="1.3" opacity="0.65"/><circle cx="255.7" cy="234.9" r="1" opacity="0.48"/><circle cx="151.8" cy="309.6" r="0.9" opacity="0.38"/><circle cx="374.6" cy="266.6" r="1" opacity="0.59"/><circle cx="165.7" cy="354.6" r="1.1" opacity="0.53"/><circle cx="351.5" cy="327.5" r="1.1" opacity="0.54"/><circle cx="483.3" cy="372.3" r="1.2" opacity="0.40"/><circle cx="193.8" cy="212.8" r="1.2" opacity="0.54"/><circle cx="434.1" cy="253.9" r="1" opacity="0.79"/><circle cx="175.1" cy="354.1" r="0.9" opacity="0.64"/><circle cx="195.7" cy="370.1" r="1.3" opacity="0.44"/><circle cx="314.9" cy="297.5" r="1.1" opacity="0.41"/><circle cx="473.1" cy="260.1" r="0.8" opacity="0.46"/><circle cx="188.6" cy="419.9" r="1" opacity="0.65"/><circle cx="311.1" cy="307" r="0.9" opacity="0.41"/><circle cx="463.2" cy="274.5" r="1.3" opacity="0.53"/><circle cx="340.7" cy="246.1" r="1" opacity="0.74"/><circle cx="437.5" cy="289.3" r="0.8" opacity="0.62"/><circle cx="290.2" cy="428.6" r="0.8" opacity="0.75"/><circle cx="270.7" cy="225.7" r="1" opacity="0.69"/><circle cx="386.7" cy="448" r="1.2" opacity="0.80"/><circle cx="232.4" cy="412.6" r="1.1" opacity="0.70"/><circle cx="405" cy="238.7" r="1.1" opacity="0.51"/><circle cx="402.9" cy="371.1" r="1" opacity="0.39"/><circle cx="450.1" cy="395.4" r="1" opacity="0.53"/><circle cx="187.7" cy="291.2" r="1.1" opacity="0.66"/><circle cx="323.1" cy="413" r="0.8" opacity="0.35"/><circle cx="289.7" cy="347.2" r="0.8" opacity="0.73"/><circle cx="268.1" cy="267.7" r="1.1" opacity="0.65"/><circle cx="399.1" cy="457.6" r="0.8" opacity="0.67"/><circle cx="394.1" cy="383.3" r="0.9" opacity="0.43"/><circle cx="475.6" cy="365.6" r="1.1" opacity="0.38"/><circle cx="312.5" cy="335" r="1.1" opacity="0.47"/><circle cx="273.3" cy="273.9" r="1.3" opacity="0.50"/><circle cx="274.4" cy="453" r="1.3" opacity="0.74"/><circle cx="388.2" cy="179.7" r="0.9" opacity="0.74"/><circle cx="415.7" cy="359.7" r="1.2" opacity="0.46"/><circle cx="242.9" cy="248.4" r="1.3" opacity="0.47"/><circle cx="410.7" cy="452.7" r="0.9" opacity="0.59"/><circle cx="308.8" cy="473.2" r="1" opacity="0.62"/><circle cx="374.1" cy="239.3" r="1.2" opacity="0.68"/><circle cx="410.3" cy="423.9" r="0.8" opacity="0.56"/><circle cx="487.1" cy="296.3" r="1" opacity="0.71"/><circle cx="415" cy="205.9" r="0.8" opacity="0.74"/><circle cx="420.9" cy="430" r="0.8" opacity="0.39"/><circle cx="276.9" cy="268.8" r="0.8" opacity="0.42"/><circle cx="276.5" cy="293.2" r="1" opacity="0.57"/><circle cx="204.7" cy="403.8" r="1.2" opacity="0.60"/><circle cx="344.7" cy="419.3" r="0.8" opacity="0.65"/><circle cx="249.5" cy="220.5" r="1.2" opacity="0.45"/><circle cx="233.2" cy="216.2" r="0.8" opacity="0.39"/><circle cx="248.1" cy="191.6" r="1" opacity="0.46"/><circle cx="366.3" cy="348.3" r="1.3" opacity="0.61"/><circle cx="250.3" cy="364.1" r="1" opacity="0.74"/><circle cx="211.7" cy="359.6" r="1.2" opacity="0.78"/><circle cx="435.8" cy="381.7" r="0.9" opacity="0.43"/><circle cx="266.6" cy="169.8" r="1.2" opacity="0.49"/><circle cx="220.4" cy="363.6" r="0.8" opacity="0.72"/><circle cx="237.3" cy="421.4" r="1.1" opacity="0.51"/><circle cx="315.7" cy="325.1" r="1" opacity="0.42"/><circle cx="291.1" cy="178.7" r="0.9" opacity="0.77"/><circle cx="212.6" cy="372.8" r="1.1" opacity="0.36"/><circle cx="235.9" cy="175.8" r="0.9" opacity="0.36"/><circle cx="356.1" cy="456.7" r="1.1" opacity="0.61"/><circle cx="368.7" cy="237.9" r="0.9" opacity="0.73"/><circle cx="275.4" cy="282.5" r="0.9" opacity="0.36"/><circle cx="270" cy="363.4" r="1.3" opacity="0.43"/><circle cx="479.6" cy="292.7" r="0.8" opacity="0.38"/><circle cx="322.4" cy="154.4" r="0.9" opacity="0.49"/><circle cx="172" cy="389.8" r="1" opacity="0.71"/><circle cx="369.4" cy="303.5" r="1" opacity="0.63"/><circle cx="436" cy="414.5" r="1.1" opacity="0.80"/><circle cx="375.5" cy="394.7" r="1.3" opacity="0.76"/><circle cx="377.4" cy="462.2" r="1" opacity="0.54"/><circle cx="199.7" cy="230.4" r="1.2" opacity="0.41"/><circle cx="394.8" cy="440" r="1.3" opacity="0.58"/><circle cx="392.3" cy="372.4" r="0.9" opacity="0.38"/><circle cx="187" cy="271.9" r="1.1" opacity="0.44"/><circle cx="215" cy="259.9" r="0.9" opacity="0.80"/><circle cx="324.7" cy="470.4" r="0.9" opacity="0.50"/><circle cx="249.2" cy="255.5" r="0.9" opacity="0.55"/><circle cx="300.6" cy="307.3" r="1.3" opacity="0.37"/><circle cx="341" cy="162.8" r="1.3" opacity="0.35"/><circle cx="208.3" cy="325.7" r="0.9" opacity="0.46"/><circle cx="362.9" cy="378.9" r="1" opacity="0.79"/><circle cx="182.1" cy="376.6" r="0.8" opacity="0.71"/><circle cx="376.7" cy="355" r="1.2" opacity="0.59"/><circle cx="368.5" cy="158.6" r="0.9" opacity="0.50"/><circle cx="202.1" cy="407.8" r="1" opacity="0.80"/><circle cx="198.9" cy="267.4" r="1" opacity="0.72"/><circle cx="309.7" cy="381.9" r="1" opacity="0.38"/><circle cx="383.3" cy="408.6" r="0.9" opacity="0.58"/><circle cx="308.4" cy="453.5" r="1" opacity="0.66"/><circle cx="300" cy="348.7" r="0.9" opacity="0.54"/><circle cx="443.9" cy="380.4" r="0.9" opacity="0.39"/><circle cx="220.1" cy="390.3" r="1.2" opacity="0.57"/><circle cx="286.1" cy="337.2" r="1.2" opacity="0.73"/><circle cx="340" cy="367.7" r="0.9" opacity="0.50"/><circle cx="417.2" cy="195.2" r="1.3" opacity="0.71"/><circle cx="290.9" cy="202.4" r="1" opacity="0.79"/><circle cx="305.9" cy="335.2" r="1.3" opacity="0.42"/><circle cx="235.7" cy="185.2" r="0.9" opacity="0.68"/><circle cx="341.8" cy="309.3" r="1.2" opacity="0.47"/><circle cx="472.5" cy="294.5" r="0.9" opacity="0.54"/><circle cx="397.7" cy="276.9" r="1" opacity="0.48"/><circle cx="317.4" cy="300.6" r="1.1" opacity="0.49"/><circle cx="467.2" cy="314.9" r="1.1" opacity="0.37"/><circle cx="356.6" cy="208.6" r="1" opacity="0.48"/><circle cx="319.4" cy="291.1" r="1" opacity="0.37"/><circle cx="314.9" cy="398.3" r="1" opacity="0.41"/><circle cx="332.5" cy="446.1" r="0.8" opacity="0.40"/><circle cx="314.6" cy="327.3" r="1.3" opacity="0.76"/><circle cx="436.5" cy="245.2" r="1.1" opacity="0.40"/><circle cx="278.6" cy="160.1" r="1.2" opacity="0.40"/><circle cx="185.6" cy="411.2" r="0.9" opacity="0.59"/><circle cx="296.8" cy="459.8" r="1" opacity="0.39"/><circle cx="429.7" cy="370.3" r="0.8" opacity="0.52"/><circle cx="422.7" cy="275.6" r="1.3" opacity="0.45"/><circle cx="208.6" cy="215.6" r="1" opacity="0.49"/><circle cx="252.7" cy="338.9" r="1" opacity="0.80"/><circle cx="322.5" cy="416" r="1" opacity="0.60"/><circle cx="163.2" cy="317.3" r="0.8" opacity="0.79"/><circle cx="391.3" cy="266.3" r="1.1" opacity="0.49"/><circle cx="358.2" cy="183" r="1.1" opacity="0.42"/><circle cx="226.9" cy="246.6" r="1" opacity="0.47"/><circle cx="223.3" cy="402.5" r="0.9" opacity="0.49"/><circle cx="213.7" cy="435.5" r="0.9" opacity="0.60"/><circle cx="229.7" cy="221.3" r="1" opacity="0.37"/><circle cx="425.1" cy="237.2" r="0.9" opacity="0.68"/><circle cx="225.2" cy="428" r="1.1" opacity="0.43"/><circle cx="294" cy="173.1" r="1.3" opacity="0.56"/><circle cx="214" cy="306.1" r="0.9" opacity="0.48"/><circle cx="400.5" cy="449.6" r="1" opacity="0.53"/><circle cx="464.9" cy="336.9" r="1" opacity="0.49"/><circle cx="281.3" cy="277" r="1" opacity="0.60"/><circle cx="295.2" cy="286" r="1" opacity="0.53"/><circle cx="172" cy="310.6" r="1.1" opacity="0.60"/><circle cx="355.9" cy="276.9" r="1" opacity="0.74"/><circle cx="357.1" cy="403.4" r="1.3" opacity="0.73"/><circle cx="238.7" cy="210.4" r="1" opacity="0.75"/><circle cx="390.6" cy="375" r="1.2" opacity="0.46"/><circle cx="235.9" cy="298.3" r="1.2" opacity="0.39"/><circle cx="408" cy="394.6" r="1" opacity="0.64"/><circle cx="358.1" cy="307.4" r="1.1" opacity="0.36"/><circle cx="253.5" cy="260.7" r="0.8" opacity="0.72"/><circle cx="325.1" cy="165.6" r="1.3" opacity="0.46"/><circle cx="186.4" cy="277.4" r="1" opacity="0.47"/><circle cx="193.9" cy="241.6" r="1" opacity="0.45"/><circle cx="351.9" cy="422.4" r="1.2" opacity="0.51"/><circle cx="403.1" cy="197.8" r="0.8" opacity="0.79"/><circle cx="376.7" cy="220.8" r="1" opacity="0.65"/><circle cx="455.1" cy="262" r="1.2" opacity="0.50"/><circle cx="360.9" cy="296.7" r="0.9" opacity="0.66"/><circle cx="375.4" cy="431.7" r="0.9" opacity="0.50"/><circle cx="158.9" cy="323.7" r="1" opacity="0.61"/><circle cx="330.1" cy="295.3" r="1.3" opacity="0.40"/><circle cx="212.3" cy="326.8" r="1" opacity="0.71"/><circle cx="339.9" cy="235.1" r="0.9" opacity="0.40"/><circle cx="393.9" cy="215.6" r="0.8" opacity="0.46"/><circle cx="305.6" cy="225.2" r="1.2" opacity="0.48"/><circle cx="319.1" cy="311.3" r="0.9" opacity="0.45"/><circle cx="175" cy="344.6" r="1.2" opacity="0.67"/><circle cx="291.6" cy="355.4" r="1.2" opacity="0.68"/><circle cx="492.2" cy="335.9" r="1.3" opacity="0.37"/><circle cx="411.2" cy="317" r="1" opacity="0.63"/><circle cx="357.7" cy="428.7" r="1.3" opacity="0.55"/><circle cx="297.4" cy="400.7" r="1" opacity="0.46"/><circle cx="184" cy="280.2" r="0.8" opacity="0.79"/><circle cx="214.2" cy="429.3" r="1" opacity="0.48"/><circle cx="492" cy="328.8" r="1.3" opacity="0.67"/><circle cx="201.1" cy="274.7" r="1" opacity="0.72"/><circle cx="267.1" cy="419.7" r="1" opacity="0.52"/><circle cx="424.4" cy="430.1" r="0.8" opacity="0.51"/><circle cx="227.6" cy="204.8" r="1.2" opacity="0.78"/><circle cx="345.5" cy="476.3" r="1.1" opacity="0.49"/><circle cx="292.2" cy="356.1" r="1" opacity="0.75"/><circle cx="291.2" cy="481.9" r="0.8" opacity="0.38"/><circle cx="350.9" cy="318.8" r="1.1" opacity="0.70"/><circle cx="241.4" cy="228" r="1.2" opacity="0.60"/><circle cx="368.2" cy="276.6" r="1" opacity="0.77"/><circle cx="196.9" cy="345.9" r="1.3" opacity="0.78"/><circle cx="391.9" cy="440.6" r="0.8" opacity="0.38"/><circle cx="221.8" cy="294.8" r="1.2" opacity="0.70"/><circle cx="248.9" cy="366" r="1" opacity="0.76"/><circle cx="433.8" cy="388.6" r="0.8" opacity="0.64"/><circle cx="323.8" cy="315.4" r="0.9" opacity="0.44"/><circle cx="359.4" cy="275.5" r="1.2" opacity="0.50"/><circle cx="422" cy="321.1" r="1.2" opacity="0.55"/><circle cx="180.8" cy="315.6" r="0.8" opacity="0.52"/><circle cx="310.5" cy="276.1" r="1.1" opacity="0.77"/><circle cx="372.4" cy="331.1" r="1.3" opacity="0.65"/><circle cx="337.4" cy="337" r="0.9" opacity="0.38"/><circle cx="194.7" cy="297.8" r="1.3" opacity="0.57"/><circle cx="346.9" cy="205.2" r="1.1" opacity="0.36"/><circle cx="214.8" cy="237.3" r="0.9" opacity="0.46"/><circle cx="298.4" cy="461.5" r="1" opacity="0.40"/><circle cx="274.1" cy="160.8" r="0.9" opacity="0.40"/><circle cx="253.2" cy="180.7" r="1" opacity="0.38"/><circle cx="316.2" cy="240.2" r="1" opacity="0.41"/><circle cx="372.1" cy="308.7" r="0.8" opacity="0.70"/><circle cx="303.3" cy="320.9" r="1" opacity="0.57"/><circle cx="221.8" cy="256.5" r="1" opacity="0.56"/><circle cx="361.6" cy="229" r="1.2" opacity="0.44"/><circle cx="159.4" cy="332.9" r="1.1" opacity="0.73"/><circle cx="246.7" cy="356.2" r="1.3" opacity="0.58"/><circle cx="192.3" cy="282.1" r="0.8" opacity="0.38"/><circle cx="347.8" cy="329.6" r="0.8" opacity="0.48"/><circle cx="378.6" cy="244.2" r="1.2" opacity="0.44"/><circle cx="235.8" cy="449.7" r="1.1" opacity="0.74"/><circle cx="442.1" cy="222.4" r="1.2" opacity="0.50"/><circle cx="300.5" cy="355.3" r="1.1" opacity="0.45"/><circle cx="217.2" cy="239.5" r="1" opacity="0.74"/><circle cx="347.3" cy="160" r="1.3" opacity="0.36"/><circle cx="349.5" cy="314.4" r="1.2" opacity="0.66"/><circle cx="161.9" cy="356.7" r="0.9" opacity="0.62"/><circle cx="402.7" cy="288.2" r="1.1" opacity="0.72"/><circle cx="250.2" cy="302.8" r="1.1" opacity="0.63"/><circle cx="311.1" cy="374.3" r="1.1" opacity="0.68"/><circle cx="220.6" cy="213.6" r="1.3" opacity="0.79"/><circle cx="224.6" cy="364.4" r="1" opacity="0.69"/><circle cx="359.2" cy="303.5" r="1" opacity="0.46"/><circle cx="271.9" cy="256.5" r="0.9" opacity="0.39"/><circle cx="337" cy="411.7" r="1" opacity="0.70"/><circle cx="428" cy="421.6" r="0.8" opacity="0.63"/><circle cx="264.2" cy="460.4" r="1" opacity="0.43"/><circle cx="277.1" cy="363.6" r="0.8" opacity="0.75"/><circle cx="235.8" cy="288.6" r="1" opacity="0.66"/><circle cx="316" cy="191.4" r="1.2" opacity="0.76"/><circle cx="272.5" cy="192.2" r="1.1" opacity="0.65"/><circle cx="184" cy="399.7" r="0.9" opacity="0.60"/><circle cx="303.2" cy="257.8" r="1.2" opacity="0.53"/><circle cx="336.8" cy="326.9" r="0.9" opacity="0.53"/><circle cx="220.7" cy="218.1" r="0.8" opacity="0.48"/><circle cx="403.5" cy="234.9" r="1.1" opacity="0.54"/><circle cx="217.4" cy="413.8" r="1" opacity="0.63"/><circle cx="251.2" cy="413.2" r="0.9" opacity="0.55"/><circle cx="454.8" cy="242" r="1.3" opacity="0.37"/><circle cx="355.4" cy="457.2" r="1" opacity="0.44"/><circle cx="278.9" cy="335.5" r="0.9" opacity="0.55"/><circle cx="269.6" cy="305.8" r="1.1" opacity="0.73"/><circle cx="239.3" cy="308.6" r="1.2" opacity="0.40"/><circle cx="340.5" cy="439.5" r="1" opacity="0.35"/><circle cx="323.4" cy="266.2" r="1" opacity="0.58"/><circle cx="246.9" cy="351.7" r="1.2" opacity="0.59"/><circle cx="288.1" cy="209.4" r="0.8" opacity="0.47"/><circle cx="383.8" cy="365.1" r="1" opacity="0.59"/><circle cx="333.7" cy="186.1" r="1.1" opacity="0.50"/><circle cx="163.7" cy="262.3" r="1.2" opacity="0.41"/><circle cx="281" cy="369.8" r="1" opacity="0.46"/><circle cx="331" cy="336.9" r="1" opacity="0.47"/><circle cx="206.7" cy="211.1" r="1.1" opacity="0.68"/><circle cx="449.1" cy="414.6" r="1" opacity="0.80"/><circle cx="275.6" cy="307.3" r="1.1" opacity="0.37"/><circle cx="469.1" cy="233" r="1" opacity="0.53"/><circle cx="238.4" cy="228.1" r="0.8" opacity="0.77"/><circle cx="372.3" cy="257.8" r="1" opacity="0.59"/><circle cx="192.4" cy="276.5" r="1.1" opacity="0.54"/><circle cx="421.9" cy="331" r="0.8" opacity="0.73"/><circle cx="246.4" cy="205.1" r="1.3" opacity="0.73"/><circle cx="211.7" cy="189.6" r="1.2" opacity="0.79"/><circle cx="415.8" cy="202.6" r="1.1" opacity="0.62"/><circle cx="188.3" cy="264.8" r="1" opacity="0.56"/><circle cx="298.3" cy="335.7" r="1" opacity="0.39"/><circle cx="418.3" cy="325.3" r="1.1" opacity="0.78"/><circle cx="322.8" cy="377.6" r="1" opacity="0.46"/><circle cx="398.2" cy="207.2" r="1.1" opacity="0.61"/><circle cx="424.1" cy="249.6" r="1.2" opacity="0.50"/><circle cx="198.5" cy="213" r="0.9" opacity="0.55"/><circle cx="312.5" cy="340.2" r="0.9" opacity="0.53"/><circle cx="228.3" cy="432.3" r="0.9" opacity="0.70"/><circle cx="397.3" cy="262.7" r="0.9" opacity="0.50"/><circle cx="304.3" cy="196.8" r="1" opacity="0.69"/><circle cx="367.1" cy="267.4" r="1" opacity="0.51"/><circle cx="452.3" cy="277" r="1" opacity="0.39"/><circle cx="271.6" cy="396.8" r="1" opacity="0.75"/><circle cx="311.3" cy="191.7" r="1" opacity="0.64"/><circle cx="399" cy="379.5" r="1.2" opacity="0.67"/><circle cx="296.4" cy="191.6" r="0.9" opacity="0.37"/><circle cx="478.3" cy="299.9" r="1" opacity="0.79"/><circle cx="331.7" cy="450.7" r="1.2" opacity="0.56"/><circle cx="348" cy="203.3" r="1.1" opacity="0.69"/><circle cx="218" cy="371.1" r="1.2" opacity="0.44"/><circle cx="324.4" cy="184.2" r="1" opacity="0.64"/><circle cx="229.7" cy="353" r="1.1" opacity="0.61"/><circle cx="320" cy="277.2" r="1" opacity="0.37"/><circle cx="442.8" cy="205.3" r="0.9" opacity="0.70"/><circle cx="250" cy="438.8" r="1" opacity="0.44"/><circle cx="421.2" cy="435.7" r="1" opacity="0.66"/><circle cx="412.1" cy="440.4" r="1.2" opacity="0.62"/><circle cx="238.7" cy="288.6" r="1" opacity="0.37"/><circle cx="286.6" cy="291.3" r="0.8" opacity="0.39"/><circle cx="439.7" cy="378.7" r="1.3" opacity="0.38"/><circle cx="469.6" cy="382.9" r="1.1" opacity="0.62"/><circle cx="233.8" cy="287.3" r="1" opacity="0.43"/><circle cx="353.6" cy="421.4" r="1.3" opacity="0.62"/><circle cx="258" cy="455.5" r="0.8" opacity="0.37"/><circle cx="396.1" cy="313.1" r="1" opacity="0.44"/><circle cx="209.8" cy="326.7" r="1" opacity="0.76"/><circle cx="378.3" cy="186.7" r="1.3" opacity="0.36"/><circle cx="433.9" cy="414.9" r="1.2" opacity="0.63"/><circle cx="305.2" cy="159.1" r="0.9" opacity="0.78"/><circle cx="337.5" cy="169.8" r="0.8" opacity="0.41"/><circle cx="253.3" cy="180.8" r="1.3" opacity="0.69"/><circle cx="352.1" cy="358.5" r="1" opacity="0.38"/><circle cx="375.8" cy="375.1" r="1" opacity="0.72"/><circle cx="326.1" cy="462.3" r="1" opacity="0.47"/><circle cx="297.3" cy="211.7" r="1" opacity="0.57"/><circle cx="401.1" cy="184.9" r="0.9" opacity="0.68"/><circle cx="267.5" cy="184" r="1.1" opacity="0.62"/><circle cx="324.7" cy="371" r="0.8" opacity="0.60"/><circle cx="328.9" cy="211.6" r="1" opacity="0.72"/><circle cx="356.1" cy="391.1" r="1.2" opacity="0.60"/><circle cx="299.1" cy="424.8" r="0.9" opacity="0.76"/><circle cx="180.1" cy="372.9" r="0.8" opacity="0.51"/><circle cx="322.4" cy="246" r="1" opacity="0.35"/><circle cx="257.9" cy="341.5" r="1" opacity="0.61"/><circle cx="280.5" cy="359.4" r="1" opacity="0.63"/><circle cx="223.6" cy="337.9" r="1.1" opacity="0.59"/><circle cx="335.9" cy="358.1" r="1.1" opacity="0.56"/><circle cx="374.8" cy="327.5" r="0.8" opacity="0.38"/><circle cx="293.4" cy="467.9" r="1" opacity="0.73"/><circle cx="304.2" cy="247.4" r="1.3" opacity="0.63"/><circle cx="229.8" cy="381.1" r="1.3" opacity="0.44"/><circle cx="363.8" cy="421.4" r="0.8" opacity="0.68"/><circle cx="305.7" cy="202.2" r="1.3" opacity="0.68"/><circle cx="402.2" cy="262.8" r="1.1" opacity="0.37"/><circle cx="211" cy="292.3" r="1.3" opacity="0.65"/><circle cx="243.7" cy="444.8" r="1" opacity="0.67"/><circle cx="407" cy="433.7" r="1" opacity="0.41"/><circle cx="315.9" cy="406.8" r="1.2" opacity="0.62"/><circle cx="382.5" cy="312.2" r="1" opacity="0.36"/><circle cx="363" cy="326.1" r="1.1" opacity="0.44"/><circle cx="413.5" cy="341.8" r="0.9" opacity="0.46"/><circle cx="473.4" cy="248.3" r="1" opacity="0.58"/><circle cx="368.6" cy="163.8" r="1.1" opacity="0.53"/><circle cx="319.8" cy="380.1" r="0.9" opacity="0.71"/><circle cx="297.5" cy="465.4" r="0.8" opacity="0.64"/><circle cx="370.3" cy="295.3" r="1.1" opacity="0.74"/><circle cx="294.7" cy="419.6" r="1.3" opacity="0.38"/><circle cx="302.3" cy="276.1" r="0.9" opacity="0.55"/><circle cx="218.5" cy="271" r="0.8" opacity="0.78"/><circle cx="288.5" cy="180.8" r="1" opacity="0.41"/><circle cx="414" cy="367.8" r="0.9" opacity="0.57"/><circle cx="277.5" cy="184.7" r="1" opacity="0.58"/><circle cx="227.3" cy="276.9" r="1.1" opacity="0.52"/><circle cx="304.6" cy="437.7" r="0.8" opacity="0.51"/><circle cx="414.2" cy="279" r="0.9" opacity="0.51"/><circle cx="298" cy="267.8" r="1.2" opacity="0.79"/><circle cx="294.4" cy="451.6" r="1" opacity="0.62"/><circle cx="215.3" cy="319.5" r="1.2" opacity="0.71"/><circle cx="177.3" cy="369.7" r="1.3" opacity="0.46"/><circle cx="411.4" cy="370.6" r="1.1" opacity="0.51"/><circle cx="269.8" cy="283.8" r="0.8" opacity="0.75"/><circle cx="445.4" cy="308.8" r="1.1" opacity="0.57"/><circle cx="306.3" cy="303.1" r="0.8" opacity="0.40"/><circle cx="282.9" cy="249.3" r="1" opacity="0.45"/><circle cx="347.6" cy="251.9" r="1.1" opacity="0.42"/><circle cx="475.4" cy="277.1" r="1.1" opacity="0.70"/><circle cx="414.4" cy="290.1" r="0.8" opacity="0.60"/><circle cx="425.6" cy="444.5" r="1.1" opacity="0.63"/><circle cx="418.6" cy="291.6" r="1" opacity="0.80"/><circle cx="374.6" cy="244" r="1.1" opacity="0.76"/><circle cx="297" cy="248.6" r="1" opacity="0.41"/><circle cx="253.1" cy="454.4" r="1" opacity="0.63"/><circle cx="242.5" cy="360" r="1" opacity="0.42"/><circle cx="211.8" cy="340.7" r="1.1" opacity="0.46"/><circle cx="382" cy="414.1" r="1.3" opacity="0.43"/><circle cx="378.9" cy="262.4" r="1" opacity="0.42"/><circle cx="376.8" cy="471.6" r="1" opacity="0.63"/><circle cx="322.5" cy="259.9" r="0.9" opacity="0.57"/><circle cx="402.6" cy="316.7" r="1" opacity="0.38"/><circle cx="438" cy="207.8" r="1.1" opacity="0.58"/><circle cx="293.2" cy="305.7" r="1" opacity="0.64"/><circle cx="340.7" cy="280.7" r="1.1" opacity="0.40"/><circle cx="396.7" cy="278.3" r="0.9" opacity="0.74"/><circle cx="217.7" cy="185.2" r="0.8" opacity="0.56"/><circle cx="437" cy="311.5" r="1.3" opacity="0.57"/><circle cx="344.7" cy="183.3" r="1.1" opacity="0.37"/><circle cx="457.9" cy="293" r="0.9" opacity="0.51"/><circle cx="372.6" cy="283.4" r="0.9" opacity="0.40"/><circle cx="236.7" cy="457.6" r="1.1" opacity="0.44"/><circle cx="439.6" cy="261.6" r="0.9" opacity="0.45"/><circle cx="279.6" cy="274.4" r="0.8" opacity="0.77"/><circle cx="289.6" cy="296.3" r="0.9" opacity="0.44"/><circle cx="256.3" cy="377.1" r="1" opacity="0.65"/><circle cx="249.3" cy="213.8" r="1" opacity="0.59"/><circle cx="215.9" cy="215.7" r="1" opacity="0.49"/><circle cx="398.8" cy="313.9" r="1" opacity="0.53"/><circle cx="404.4" cy="368.3" r="0.8" opacity="0.77"/><circle cx="222" cy="334.7" r="0.9" opacity="0.53"/><circle cx="351.9" cy="481" r="1.3" opacity="0.52"/><circle cx="346.8" cy="243.6" r="1" opacity="0.58"/><circle cx="309" cy="364.7" r="1.2" opacity="0.42"/><circle cx="189.9" cy="396" r="1.3" opacity="0.66"/><circle cx="250.3" cy="273.6" r="1.3" opacity="0.42"/><circle cx="430.1" cy="259.7" r="0.8" opacity="0.36"/><circle cx="434.3" cy="381.7" r="1" opacity="0.48"/><circle cx="404.2" cy="181.8" r="1.2" opacity="0.40"/><circle cx="245.4" cy="205.6" r="1.1" opacity="0.74"/><circle cx="155.3" cy="355" r="1.2" opacity="0.63"/><circle cx="322.9" cy="414.9" r="0.9" opacity="0.57"/><circle cx="340.3" cy="405.9" r="1.3" opacity="0.78"/><circle cx="458.6" cy="395.2" r="1.3" opacity="0.71"/><circle cx="436.9" cy="243.2" r="1.3" opacity="0.40"/><circle cx="415.8" cy="312.8" r="1.2" opacity="0.44"/><circle cx="477" cy="383.1" r="1" opacity="0.57"/><circle cx="456.8" cy="377.5" r="1.2" opacity="0.62"/><circle cx="270.8" cy="438.6" r="1.2" opacity="0.68"/><circle cx="327.3" cy="441.3" r="1.1" opacity="0.45"/><circle cx="432.9" cy="354.3" r="0.8" opacity="0.47"/><circle cx="238.2" cy="321.2" r="1.2" opacity="0.69"/><circle cx="374.5" cy="466" r="0.8" opacity="0.39"/><circle cx="354.6" cy="358.6" r="1.3" opacity="0.68"/><circle cx="301.2" cy="384.8" r="0.9" opacity="0.78"/><circle cx="271.4" cy="156.3" r="0.9" opacity="0.36"/><circle cx="229" cy="265.6" r="1.1" opacity="0.47"/><circle cx="351.3" cy="178.6" r="1" opacity="0.66"/><circle cx="427.8" cy="202.6" r="1.3" opacity="0.53"/><circle cx="295.2" cy="284.2" r="1" opacity="0.48"/><circle cx="334.4" cy="160.3" r="0.9" opacity="0.67"/><circle cx="456" cy="316.9" r="0.8" opacity="0.63"/><circle cx="205.4" cy="289.6" r="0.8" opacity="0.63"/><circle cx="249.4" cy="315.3" r="1.3" opacity="0.79"/><circle cx="257.4" cy="390.7" r="1.3" opacity="0.41"/><circle cx="299.6" cy="246.7" r="1.2" opacity="0.50"/><circle cx="158.2" cy="330.3" r="1.2" opacity="0.49"/><circle cx="222" cy="414.9" r="1.3" opacity="0.69"/><circle cx="272.1" cy="218.7" r="0.9" opacity="0.76"/><circle cx="276.7" cy="462.5" r="1.2" opacity="0.52"/><circle cx="488" cy="349.7" r="1.1" opacity="0.64"/><circle cx="472.2" cy="321" r="1.1" opacity="0.61"/><circle cx="421.3" cy="279.3" r="1" opacity="0.79"/><circle cx="394.7" cy="401.9" r="1.3" opacity="0.36"/><circle cx="372.1" cy="347.9" r="1" opacity="0.75"/><circle cx="211.1" cy="333.7" r="1" opacity="0.44"/><circle cx="322.2" cy="300.3" r="1" opacity="0.70"/><circle cx="350.5" cy="474.6" r="0.9" opacity="0.73"/><circle cx="481.9" cy="280.5" r="1.3" opacity="0.51"/><circle cx="261.9" cy="271.4" r="0.9" opacity="0.77"/><circle cx="207.7" cy="259.3" r="0.8" opacity="0.56"/><circle cx="289.3" cy="409" r="1" opacity="0.58"/><circle cx="180.8" cy="329.7" r="1" opacity="0.41"/><circle cx="241.5" cy="339.3" r="1.3" opacity="0.46"/><circle cx="443.5" cy="405.3" r="0.8" opacity="0.51"/><circle cx="435.3" cy="440.8" r="1.2" opacity="0.72"/><circle cx="175.9" cy="358.9" r="1.2" opacity="0.45"/><circle cx="392.1" cy="266" r="1" opacity="0.59"/><circle cx="179.5" cy="309.5" r="1" opacity="0.78"/><circle cx="415.1" cy="340.8" r="1" opacity="0.46"/><circle cx="306.4" cy="477.3" r="0.9" opacity="0.43"/><circle cx="249.6" cy="316.3" r="1" opacity="0.68"/><circle cx="387" cy="277.8" r="1" opacity="0.71"/><circle cx="482.3" cy="378" r="1.1" opacity="0.68"/><circle cx="219.8" cy="317.1" r="1.3" opacity="0.75"/><circle cx="349.9" cy="373.5" r="0.8" opacity="0.73"/><circle cx="323.6" cy="225.8" r="1" opacity="0.38"/><circle cx="419.4" cy="248.1" r="1.1" opacity="0.71"/><circle cx="424.3" cy="188.9" r="0.8" opacity="0.39"/><circle cx="301.4" cy="162" r="1" opacity="0.42"/><circle cx="328.8" cy="439.6" r="1" opacity="0.68"/><circle cx="366.1" cy="329" r="1.3" opacity="0.37"/><circle cx="331" cy="448.6" r="0.8" opacity="0.49"/><circle cx="378.4" cy="441.7" r="1.1" opacity="0.52"/><circle cx="379.8" cy="244.2" r="1" opacity="0.56"/><circle cx="356.1" cy="193.6" r="1" opacity="0.69"/><circle cx="369.3" cy="397.1" r="0.9" opacity="0.67"/><circle cx="252.8" cy="255.2" r="0.8" opacity="0.47"/><circle cx="219" cy="393" r="1.2" opacity="0.52"/><circle cx="262.5" cy="283.9" r="1.3" opacity="0.64"/><circle cx="316.2" cy="337.2" r="0.8" opacity="0.54"/><circle cx="280.3" cy="424.2" r="1.1" opacity="0.68"/><circle cx="297.2" cy="399.8" r="1.1" opacity="0.56"/><circle cx="281.1" cy="206.7" r="0.8" opacity="0.39"/><circle cx="318.4" cy="401.4" r="1" opacity="0.73"/><circle cx="457" cy="322.2" r="1" opacity="0.51"/><circle cx="423.1" cy="351.7" r="1" opacity="0.44"/><circle cx="323.2" cy="162.2" r="1.1" opacity="0.67"/><circle cx="413.7" cy="204.7" r="0.9" opacity="0.66"/><circle cx="158.2" cy="320.7" r="1.1" opacity="0.64"/><circle cx="395.2" cy="421.4" r="1" opacity="0.66"/><circle cx="234.9" cy="408.7" r="1" opacity="0.57"/><circle cx="398.5" cy="322.2" r="1.3" opacity="0.68"/><circle cx="457.9" cy="331.2" r="0.8" opacity="0.70"/><circle cx="266.6" cy="296.7" r="1.1" opacity="0.55"/><circle cx="225.8" cy="286.3" r="1.3" opacity="0.64"/><circle cx="208" cy="325.4" r="1.3" opacity="0.40"/><circle cx="384.6" cy="232" r="1.1" opacity="0.52"/><circle cx="203" cy="257.3" r="1.3" opacity="0.61"/><circle cx="322.7" cy="368.3" r="1" opacity="0.36"/><circle cx="330.1" cy="214.7" r="1.3" opacity="0.57"/><circle cx="302.8" cy="311.3" r="1.2" opacity="0.48"/><circle cx="193.8" cy="382.1" r="1.1" opacity="0.59"/><circle cx="319.1" cy="214.5" r="0.9" opacity="0.76"/><circle cx="298.2" cy="351.1" r="0.8" opacity="0.48"/><circle cx="319.5" cy="419.1" r="1" opacity="0.45"/><circle cx="397.5" cy="242.9" r="0.8" opacity="0.42"/><circle cx="289.6" cy="263.6" r="1" opacity="0.38"/><circle cx="169.2" cy="292.1" r="1" opacity="0.68"/><circle cx="243.8" cy="401.2" r="0.8" opacity="0.48"/><circle cx="236.4" cy="399.3" r="1.1" opacity="0.60"/><circle cx="388.3" cy="307.2" r="1" opacity="0.65"/><circle cx="193.8" cy="334.8" r="1" opacity="0.49"/><circle cx="284.8" cy="386" r="1" opacity="0.58"/><circle cx="239.4" cy="411.5" r="1.2" opacity="0.59"/><circle cx="406.2" cy="279.8" r="0.8" opacity="0.76"/><circle cx="332.3" cy="470.5" r="0.8" opacity="0.63"/><circle cx="306.6" cy="210.4" r="0.8" opacity="0.44"/><circle cx="347.1" cy="325.6" r="1.2" opacity="0.56"/><circle cx="311.2" cy="278.3" r="1" opacity="0.42"/><circle cx="179.6" cy="367.9" r="1.3" opacity="0.57"/><circle cx="363" cy="379.4" r="0.8" opacity="0.62"/><circle cx="413.3" cy="269.2" r="0.9" opacity="0.61"/><circle cx="281.7" cy="241.4" r="1" opacity="0.59"/><circle cx="210.8" cy="327.5" r="0.8" opacity="0.66"/><circle cx="433.6" cy="197" r="1.3" opacity="0.38"/><circle cx="363.8" cy="317.8" r="1" opacity="0.68"/><circle cx="437.7" cy="236.2" r="1.1" opacity="0.46"/><circle cx="373" cy="389.3" r="0.9" opacity="0.48"/><circle cx="222.3" cy="318.9" r="0.9" opacity="0.47"/><circle cx="409" cy="244.7" r="1.1" opacity="0.42"/><circle cx="294.6" cy="348.9" r="1" opacity="0.52"/><circle cx="293.5" cy="402.2" r="1.1" opacity="0.80"/><circle cx="327.2" cy="393.1" r="1.1" opacity="0.36"/><circle cx="225.5" cy="261.2" r="0.8" opacity="0.37"/><circle cx="376.4" cy="286.2" r="1" opacity="0.46"/><circle cx="295.2" cy="169.2" r="0.9" opacity="0.47"/><circle cx="324.6" cy="189.4" r="1" opacity="0.61"/><circle cx="326.7" cy="442.4" r="1.3" opacity="0.79"/><circle cx="217.9" cy="389.9" r="1.3" opacity="0.58"/><circle cx="296.2" cy="343" r="1" opacity="0.51"/><circle cx="419.4" cy="455.7" r="1.1" opacity="0.63"/><circle cx="317.9" cy="322.2" r="1.1" opacity="0.43"/><circle cx="242.6" cy="383.4" r="1.1" opacity="0.39"/><circle cx="432" cy="306" r="0.9" opacity="0.58"/><circle cx="274.7" cy="218.3" r="1" opacity="0.66"/><circle cx="364.5" cy="431.4" r="0.8" opacity="0.49"/><circle cx="388.9" cy="271.1" r="1.2" opacity="0.63"/><circle cx="323" cy="199" r="1" opacity="0.50"/><circle cx="478.3" cy="261.6" r="1.1" opacity="0.35"/><circle cx="249.5" cy="282" r="1" opacity="0.41"/><circle cx="304.2" cy="235.2" r="0.9" opacity="0.66"/><circle cx="252.1" cy="365.2" r="1.3" opacity="0.75"/><circle cx="263.7" cy="332.4" r="0.8" opacity="0.78"/><circle cx="289.8" cy="175.3" r="1" opacity="0.42"/><circle cx="344.5" cy="346.1" r="1" opacity="0.53"/><circle cx="435.1" cy="250" r="1.3" opacity="0.61"/><circle cx="150.5" cy="298.1" r="1" opacity="0.66"/><circle cx="228.9" cy="455.3" r="1" opacity="0.43"/><circle cx="274.9" cy="295.9" r="1" opacity="0.37"/><circle cx="197.6" cy="345.4" r="1.2" opacity="0.41"/><circle cx="327.1" cy="188.1" r="1" opacity="0.67"/><circle cx="290.4" cy="375" r="1.1" opacity="0.40"/><circle cx="223" cy="210.3" r="1" opacity="0.42"/><circle cx="301.8" cy="321.4" r="1" opacity="0.76"/><circle cx="311.9" cy="333.1" r="0.8" opacity="0.66"/><circle cx="334.7" cy="243.4" r="1" opacity="0.76"/><circle cx="350.1" cy="372.3" r="1" opacity="0.58"/><circle cx="348.5" cy="234.3" r="1.3" opacity="0.49"/><circle cx="306.3" cy="336.8" r="1.3" opacity="0.52"/><circle cx="386.2" cy="395.7" r="0.9" opacity="0.69"/><circle cx="339.1" cy="227.2" r="1" opacity="0.44"/><circle cx="330.5" cy="300.3" r="1.2" opacity="0.47"/><circle cx="325.2" cy="337.6" r="1" opacity="0.58"/><circle cx="328.4" cy="264.2" r="1" opacity="0.47"/><circle cx="167.6" cy="264.8" r="1.1" opacity="0.49"/><circle cx="229.4" cy="317.2" r="1" opacity="0.65"/><circle cx="261.7" cy="318.3" r="1" opacity="0.60"/><circle cx="339.9" cy="453.8" r="0.8" opacity="0.75"/><circle cx="224.7" cy="257.2" r="0.9" opacity="0.38"/><circle cx="304.6" cy="257.8" r="0.8" opacity="0.58"/><circle cx="213.7" cy="403.1" r="1.3" opacity="0.63"/><circle cx="269.2" cy="249.7" r="1.2" opacity="0.56"/><circle cx="381.2" cy="257.8" r="1.3" opacity="0.74"/><circle cx="384" cy="372.8" r="1" opacity="0.71"/><circle cx="326.1" cy="428.8" r="0.8" opacity="0.79"/><circle cx="192.4" cy="357.2" r="1" opacity="0.54"/><circle cx="297.4" cy="183.6" r="1" opacity="0.48"/><circle cx="465" cy="350.7" r="0.8" opacity="0.39"/><circle cx="366.8" cy="469.2" r="0.9" opacity="0.37"/><circle cx="260.8" cy="444.3" r="1" opacity="0.43"/><circle cx="205.4" cy="345.5" r="1.2" opacity="0.80"/><circle cx="266.5" cy="326.9" r="1" opacity="0.61"/><circle cx="340.7" cy="418.7" r="1" opacity="0.67"/><circle cx="360.9" cy="218.2" r="0.9" opacity="0.47"/><circle cx="215.4" cy="393.9" r="1.3" opacity="0.41"/><circle cx="335.4" cy="299.9" r="1.2" opacity="0.57"/><circle cx="442.9" cy="195.2" r="1.2" opacity="0.58"/><circle cx="311.6" cy="303.5" r="1.1" opacity="0.49"/><circle cx="240.3" cy="348" r="0.9" opacity="0.50"/><circle cx="380.1" cy="353.5" r="0.9" opacity="0.79"/><circle cx="338.1" cy="323.8" r="1" opacity="0.59"/><circle cx="239.9" cy="215.5" r="1.2" opacity="0.57"/><circle cx="303.2" cy="290.6" r="1" opacity="0.63"/><circle cx="444.1" cy="405.8" r="0.8" opacity="0.63"/><circle cx="174.4" cy="320.2" r="0.8" opacity="0.59"/><circle cx="351.3" cy="193.7" r="1" opacity="0.54"/><circle cx="344" cy="278.3" r="0.9" opacity="0.74"/><circle cx="436.8" cy="375.4" r="1" opacity="0.79"/><circle cx="290.9" cy="225.2" r="0.8" opacity="0.37"/><circle cx="309.7" cy="480" r="1" opacity="0.51"/><circle cx="340.7" cy="363.1" r="0.9" opacity="0.64"/><circle cx="315.2" cy="287.6" r="1" opacity="0.40"/><circle cx="250.5" cy="204.7" r="1.3" opacity="0.36"/><circle cx="347.4" cy="462" r="1.2" opacity="0.36"/><circle cx="276.5" cy="176.6" r="1" opacity="0.52"/><circle cx="237.3" cy="344.8" r="1.3" opacity="0.62"/><circle cx="285.8" cy="355.6" r="1.3" opacity="0.79"/><circle cx="294.9" cy="304" r="0.8" opacity="0.49"/><circle cx="292.4" cy="351.6" r="1.1" opacity="0.37"/><circle cx="383.4" cy="288.3" r="1.2" opacity="0.53"/><circle cx="305.8" cy="415.5" r="1" opacity="0.60"/><circle cx="253.6" cy="371.7" r="0.9" opacity="0.60"/><circle cx="277.8" cy="261.6" r="1" opacity="0.69"/><circle cx="324.5" cy="397.8" r="1.2" opacity="0.42"/><circle cx="193.3" cy="345.4" r="1" opacity="0.55"/><circle cx="218.7" cy="409.7" r="1.3" opacity="0.61"/><circle cx="439.7" cy="226.3" r="1" opacity="0.67"/><circle cx="222.8" cy="369.1" r="1.3" opacity="0.73"/><circle cx="430.9" cy="216.6" r="0.9" opacity="0.40"/><circle cx="431.8" cy="213.9" r="1.2" opacity="0.49"/><circle cx="336.7" cy="401" r="0.8" opacity="0.61"/><circle cx="315.8" cy="218.2" r="1" opacity="0.54"/><circle cx="236.8" cy="203.4" r="0.9" opacity="0.37"/><circle cx="313" cy="336.9" r="0.8" opacity="0.54"/><circle cx="400.9" cy="326.3" r="0.8" opacity="0.48"/><circle cx="205.3" cy="284.8" r="0.8" opacity="0.60"/><circle cx="411.4" cy="247.4" r="0.9" opacity="0.61"/><circle cx="329.5" cy="242.3" r="1" opacity="0.46"/><circle cx="428.2" cy="390.7" r="1.1" opacity="0.62"/><circle cx="212.4" cy="434" r="0.8" opacity="0.79"/><circle cx="293.1" cy="320.7" r="1" opacity="0.40"/><circle cx="275.4" cy="267.4" r="1.2" opacity="0.71"/><circle cx="365.1" cy="339.8" r="1.3" opacity="0.37"/><circle cx="254.2" cy="336.9" r="1.1" opacity="0.48"/><circle cx="291" cy="333.2" r="1.3" opacity="0.52"/><circle cx="415.1" cy="282.8" r="1.2" opacity="0.77"/><circle cx="407.5" cy="198.8" r="1" opacity="0.52"/><circle cx="217.4" cy="308.8" r="1.1" opacity="0.46"/><circle cx="334.9" cy="208.8" r="1" opacity="0.72"/><circle cx="205.1" cy="424.5" r="1" opacity="0.68"/><circle cx="238.3" cy="400.3" r="1.1" opacity="0.69"/><circle cx="345.5" cy="258.1" r="1" opacity="0.77"/><circle cx="355.6" cy="334.9" r="0.9" opacity="0.79"/><circle cx="326.2" cy="368.6" r="1.1" opacity="0.64"/><circle cx="192.2" cy="385.2" r="1" opacity="0.52"/><circle cx="347.5" cy="367.3" r="1" opacity="0.79"/><circle cx="172.6" cy="303.4" r="1.2" opacity="0.48"/><circle cx="267.2" cy="186" r="0.9" opacity="0.45"/><circle cx="271" cy="228.1" r="1" opacity="0.45"/><circle cx="358.2" cy="287" r="1.3" opacity="0.77"/></g><ellipse cx="296.3" cy="221.3" rx="3.7" ry="3.9" fill="#b9d29c" stroke="#74906a" stroke-width="1"/><ellipse cx="309.5" cy="230" rx="4.7" ry="4.9" fill="#b9d29c" stroke="#74906a" stroke-width="1"/><ellipse cx="273.8" cy="232" rx="4" ry="4.2" fill="#b9d29c" stroke="#74906a" stroke-width="1"/><ellipse cx="289.7" cy="233.3" rx="3.4" ry="3.6" fill="#b9d29c" stroke="#74906a" stroke-width="1"/><ellipse cx="259.2" cy="240" rx="3.7" ry="3.9" fill="#b9d29c" stroke="#74906a" stroke-width="1"/><ellipse cx="303.8" cy="241.7" rx="4" ry="4.2" fill="#b9d29c" stroke="#74906a" stroke-width="1"/><ellipse cx="275.8" cy="245.8" rx="4" ry="4.2" fill="#b9d29c" stroke="#74906a" stroke-width="1"/><ellipse cx="292.2" cy="248.7" rx="3.7" ry="3.9" fill="#b9d29c" stroke="#74906a" stroke-width="1"/><ellipse cx="264.2" cy="257.5" rx="5" ry="5.2" fill="#b9d29c" stroke="#74906a" stroke-width="1"/><ellipse cx="282.5" cy="258.3" rx="4" ry="4.2" fill="#b9d29c" stroke="#74906a" stroke-width="1"/><ellipse cx="242.5" cy="263" rx="4.5" ry="4.7" fill="#b9d29c" stroke="#74906a" stroke-width="1"/><ellipse cx="256.7" cy="274.7" rx="4.8" ry="5" fill="#b9d29c" stroke="#74906a" stroke-width="1"/><ellipse cx="241" cy="281.7" rx="4" ry="4.2" fill="#b9d29c" stroke="#74906a" stroke-width="1"/><ellipse cx="261.3" cy="288.6" rx="4.2" ry="4.4" fill="#b9d29c" stroke="#74906a" stroke-width="1"/><ellipse cx="247.3" cy="299.8" rx="4" ry="4.2" fill="#b9d29c" stroke="#74906a" stroke-width="1"/><ellipse cx="235" cy="306" rx="4" ry="4.2" fill="#b9d29c" stroke="#74906a" stroke-width="1"/><ellipse cx="257.8" cy="306.8" rx="3.5" ry="3.7" fill="#b9d29c" stroke="#74906a" stroke-width="1"/><ellipse cx="245" cy="317.8" rx="4" ry="4.2" fill="#b9d29c" stroke="#74906a" stroke-width="1"/><ellipse cx="231.4" cy="325.5" rx="4.2" ry="4.4" fill="#b9d29c" stroke="#74906a" stroke-width="1"/><ellipse cx="247.8" cy="338.8" rx="5.8" ry="6.1" fill="#b9d29c" stroke="#74906a" stroke-width="1"/><ellipse cx="232.4" cy="357" rx="4.7" ry="4.9" fill="#b9d29c" stroke="#74906a" stroke-width="1"/><ellipse cx="327" cy="218.6" rx="4" ry="4.2" fill="#b9d29c" stroke="#74906a" stroke-width="1"/><ellipse cx="354.4" cy="221" rx="4.8" ry="5" fill="#b9d29c" stroke="#74906a" stroke-width="1"/><ellipse cx="339.4" cy="231" rx="5.6" ry="5.9" fill="#b9d29c" stroke="#74906a" stroke-width="1"/><ellipse cx="324.4" cy="238" rx="4.8" ry="5" fill="#b9d29c" stroke="#74906a" stroke-width="1"/><ellipse cx="359" cy="236" rx="3.6" ry="3.8" fill="#b9d29c" stroke="#74906a" stroke-width="1"/><ellipse cx="375.4" cy="243.6" rx="3.6" ry="3.8" fill="#b9d29c" stroke="#74906a" stroke-width="1"/><ellipse cx="247.3" cy="374.4" rx="7.5" ry="8.2" fill="#b9d29c" stroke="#74906a" stroke-width="1"/><path d="M281,277C279.8,278.7 276,283.5 274,287C272,290.5 270.2,294.2 269,298C267.8,301.8 267,305.5 266.5,310C266,314.5 266.1,322.5 266,325 M289,270C290.5,268.7 294.5,264.2 298,262C301.5,259.8 305.8,258.3 310,257C314.2,255.7 318.2,254.2 323,254C327.8,253.8 336.3,255.2 339,255.5 M291,281.5C292.5,280.2 296.8,275.9 300,274C303.2,272.1 306.3,270.9 310,270C313.7,269.1 318,268.6 322,268.5C326,268.4 330,268.8 334,269.5C338,270.2 343,271.8 346,273C349,274.2 350.4,275.4 352,276.5C353.6,277.6 354.9,279 355.5,279.5 M288,288C287.3,289.7 285.1,294.3 284,298C282.9,301.7 282,306 281.5,310C281,314 281,318 281,322C281,326 281.4,332 281.5,334 M266,320C270.3,320 287.7,320 292,320 M270,343C271,345.3 273.7,352.7 276,357C278.3,361.3 281.5,365.9 284,369C286.5,372.1 288.8,373.8 291,375.5C293.2,377.2 296,378.8 297,379.5 M281,344C281.8,345.5 284,350 286,353C288,356 290.7,359.4 293,362C295.3,364.6 298.8,367.4 300,368.5 M276,359C277.8,359 285.2,359 287,359 M311,369.5C312.5,369.9 316.5,371.4 320,372C323.5,372.6 328,373 332,373C336,373 340.2,372.8 344,372C347.8,371.2 353.2,368.7 355,368 M332,358C332,360.3 332,369.7 332,372 M307.5,385C308.8,385.5 311.9,387.2 315,388C318.1,388.8 322.8,389.7 326,390C329.2,390.3 332.7,390 334,390 M340,387C341.7,386.3 346.7,384.7 350,383C353.3,381.3 358.3,378 360,377 M380,324C379.8,325.8 379.8,331.3 379,335C378.2,338.7 376.7,342.8 375,346C373.3,349.2 371.2,351.7 369,354C366.8,356.3 363.2,359 362,360 M391,337C390.7,338.8 390.3,344.5 389,348C387.7,351.5 385.3,355 383,358C380.7,361 377.7,363.8 375,366C372.3,368.2 368.3,370.2 367,371 M378,352C379.5,352 385.5,352 387,352 M392,284.5C392.8,285.8 395.2,289.2 396.5,292C397.8,294.8 399.2,297.8 400,301C400.8,304.2 401.2,309.3 401.5,311 M402.5,319C402.4,320.5 402.5,324.8 402,328C401.5,331.2 399.9,336.3 399.5,338 M342.9,243.5C345.5,244.2 353.8,245.8 358.7,248C363.6,250.2 368.4,254 372,257C375.6,260 377.9,263 380,266C382.1,269 383.8,273.5 384.5,275 M347.2,256.5C348.7,256.6 353.5,256.5 356,257C358.5,257.5 360.3,258.2 362,259.5C363.7,260.8 364.8,263 366,265C367.2,267 368.6,269.6 369.5,271.5C370.4,273.4 371.2,275.7 371.5,276.5 M361,251C361,252.3 361,257.7 361,259 M361.5,283.7C362.4,284.8 365.4,287.9 367,290C368.6,292.1 369.8,293.9 371,296C372.2,298.1 373.8,301.3 374.4,302.4 M379.5,283C380.2,284 382.8,286.7 384,289C385.2,291.3 386,294.2 386.5,297C387,299.8 387,303.3 387,306C387,308.7 386.6,311.8 386.5,313 M381,299.5C381.8,299.5 385.2,299.5 386,299.5 M299,262C299,264.3 299,273.7 299,276 M315,256C315,258.5 315,268.5 315,271 M314,270C314,272.3 314,281.7 314,284 M347,275C347.1,276.7 347.4,283.3 347.5,285" fill="none" stroke="#74906a" stroke-width="8.6" stroke-linecap="round" stroke-linejoin="round"/><ellipse cx="331.3" cy="323.3" rx="40.3" ry="41.6" fill="#b9d29c" stroke="#74906a" stroke-width="1.2"/><path d="M281,277C279.8,278.7 276,283.5 274,287C272,290.5 270.2,294.2 269,298C267.8,301.8 267,305.5 266.5,310C266,314.5 266.1,322.5 266,325 M289,270C290.5,268.7 294.5,264.2 298,262C301.5,259.8 305.8,258.3 310,257C314.2,255.7 318.2,254.2 323,254C327.8,253.8 336.3,255.2 339,255.5 M291,281.5C292.5,280.2 296.8,275.9 300,274C303.2,272.1 306.3,270.9 310,270C313.7,269.1 318,268.6 322,268.5C326,268.4 330,268.8 334,269.5C338,270.2 343,271.8 346,273C349,274.2 350.4,275.4 352,276.5C353.6,277.6 354.9,279 355.5,279.5 M288,288C287.3,289.7 285.1,294.3 284,298C282.9,301.7 282,306 281.5,310C281,314 281,318 281,322C281,326 281.4,332 281.5,334 M266,320C270.3,320 287.7,320 292,320 M270,343C271,345.3 273.7,352.7 276,357C278.3,361.3 281.5,365.9 284,369C286.5,372.1 288.8,373.8 291,375.5C293.2,377.2 296,378.8 297,379.5 M281,344C281.8,345.5 284,350 286,353C288,356 290.7,359.4 293,362C295.3,364.6 298.8,367.4 300,368.5 M276,359C277.8,359 285.2,359 287,359 M311,369.5C312.5,369.9 316.5,371.4 320,372C323.5,372.6 328,373 332,373C336,373 340.2,372.8 344,372C347.8,371.2 353.2,368.7 355,368 M332,358C332,360.3 332,369.7 332,372 M307.5,385C308.8,385.5 311.9,387.2 315,388C318.1,388.8 322.8,389.7 326,390C329.2,390.3 332.7,390 334,390 M340,387C341.7,386.3 346.7,384.7 350,383C353.3,381.3 358.3,378 360,377 M380,324C379.8,325.8 379.8,331.3 379,335C378.2,338.7 376.7,342.8 375,346C373.3,349.2 371.2,351.7 369,354C366.8,356.3 363.2,359 362,360 M391,337C390.7,338.8 390.3,344.5 389,348C387.7,351.5 385.3,355 383,358C380.7,361 377.7,363.8 375,366C372.3,368.2 368.3,370.2 367,371 M378,352C379.5,352 385.5,352 387,352 M392,284.5C392.8,285.8 395.2,289.2 396.5,292C397.8,294.8 399.2,297.8 400,301C400.8,304.2 401.2,309.3 401.5,311 M402.5,319C402.4,320.5 402.5,324.8 402,328C401.5,331.2 399.9,336.3 399.5,338 M342.9,243.5C345.5,244.2 353.8,245.8 358.7,248C363.6,250.2 368.4,254 372,257C375.6,260 377.9,263 380,266C382.1,269 383.8,273.5 384.5,275 M347.2,256.5C348.7,256.6 353.5,256.5 356,257C358.5,257.5 360.3,258.2 362,259.5C363.7,260.8 364.8,263 366,265C367.2,267 368.6,269.6 369.5,271.5C370.4,273.4 371.2,275.7 371.5,276.5 M361,251C361,252.3 361,257.7 361,259 M361.5,283.7C362.4,284.8 365.4,287.9 367,290C368.6,292.1 369.8,293.9 371,296C372.2,298.1 373.8,301.3 374.4,302.4 M379.5,283C380.2,284 382.8,286.7 384,289C385.2,291.3 386,294.2 386.5,297C387,299.8 387,303.3 387,306C387,308.7 386.6,311.8 386.5,313 M381,299.5C381.8,299.5 385.2,299.5 386,299.5 M299,262C299,264.3 299,273.7 299,276 M315,256C315,258.5 315,268.5 315,271 M314,270C314,272.3 314,281.7 314,284 M347,275C347.1,276.7 347.4,283.3 347.5,285" fill="none" stroke="#b9d29c" stroke-width="6.6" stroke-linecap="round" stroke-linejoin="round"/><ellipse cx="268" cy="334.4" rx="3.2" ry="5" fill="#b9d29c" stroke="#74906a" stroke-width="1"/><ellipse cx="295" cy="339.5" rx="5.5" ry="5.5" fill="#b9d29c"/><ellipse cx="331.6" cy="322.3" rx="33" ry="34.5" fill="#d39bb8" stroke="#9d6e8c" stroke-width="1"/><ellipse cx="329.3" cy="320.7" rx="17.2" ry="17" fill="#a687b3" stroke="#7f6690" stroke-width="1"/><g fill="none" stroke="#3f3549" stroke-width="1.4" stroke-linecap="round"><path d="M324.3,309.5C324.4,310.1 324.4,311.9 324.9,313.2C325.3,314.4 326.3,316 327,317C327.7,318 328.4,318.6 329.1,319.4C329.8,320.2 330.8,320.9 331.4,322C332,323.1 332.7,324.7 332.9,326C333.1,327.3 332.8,328.9 332.5,330C332.2,331.1 331.6,332.2 331.4,332.6"/><path d="M333.3,309.5C333.2,310.1 333.4,311.9 333,313.2C332.6,314.4 331.6,316 331,317C330.4,318 329.8,318.5 329.1,319.4C328.4,320.3 327.4,321.3 326.6,322.4C325.9,323.5 325,324.8 324.6,326C324.2,327.2 324.1,328.5 324.2,329.5C324.3,330.5 325,331.4 325.2,331.8"/><path d="M325.6,311 h7 M326.5,314 h5 M326.5,324.5 h5 M325.8,327.5 h6.2 M326,330.4 h5.5" stroke-width="0.8" stroke="#6d5a7c"/></g><path d="M232.2,207.9 L233.4,209.3 L234.1,210.6 L234.6,212 L234.9,213.5 L235,215.1 L234.8,216.9 L234.4,218.8 L233.8,220.7 L233,222.8 L232,224.9 L230.8,227.1 L229.4,229.5 L227.7,231.8 L225.9,234.3 L223.9,236.8 L221.6,239.4 L219.1,242.2 L215.9,245.4 L212.7,248.6 L209.9,251.1 L207.3,253.4 L204.8,255.4 L202.3,257.2 L200,258.9 L197.6,260.3 L195.4,261.5 L193.3,262.5 L191.2,263.3 L189.3,263.9 L187.4,264.3 L185.6,264.5 L184,264.4 L182.5,264.1 L181.1,263.6 L179.8,262.9 L178.4,261.7 L177.2,260.3 L176.5,259 L176,257.6 L175.7,256.1 L175.6,254.5 L175.8,252.7 L176.2,250.8 L176.8,248.9 L177.6,246.8 L178.6,244.7 L179.8,242.5 L181.2,240.1 L182.9,237.8 L184.7,235.3 L186.7,232.8 L189,230.2 L191.5,227.4 L194.7,224.2 L197.9,221 L200.7,218.5 L203.3,216.2 L205.8,214.2 L208.3,212.4 L210.6,210.7 L213,209.3 L215.2,208.1 L217.3,207.1 L219.4,206.3 L221.3,205.7 L223.2,205.3 L225,205.1 L226.6,205.2 L228.1,205.5 L229.5,206 L230.8,206.7Z" fill="#f8c31b" stroke="#1d1f2b" stroke-width="1.8"/><path d="M183,255.2C183.2,255.7 183.6,257.7 184.3,258.4C185.1,259.1 186.5,259.6 187.5,259.3C188.5,259 189.9,257.8 190.5,256.5C191.1,255.2 191,253.2 191,251.5C191,249.8 190.3,247.8 190.3,246.3C190.3,244.8 190.5,243.3 191,242.3C191.5,241.3 192.6,240.4 193.5,240.5C194.4,240.6 195.6,241.9 196.3,242.8C197.1,243.8 197.3,245.3 198,246.2C198.7,247 199.6,247.8 200.5,247.9C201.4,248 202.7,247.3 203.3,246.5C203.9,245.7 204.2,244.4 204.3,243C204.4,241.6 204.1,240 203.8,238.3C203.5,236.6 202.5,234.7 202.3,233C202.1,231.3 202.4,229.5 202.8,228.3C203.2,227.1 203.9,226.5 204.8,225.8C205.7,225.2 206.9,224.3 208.2,224.4C209.4,224.5 211.1,225.4 212.3,226.4C213.6,227.4 214.6,229.4 215.7,230.5C216.8,231.6 218,232.8 219.1,232.9C220.2,233 221.7,232.3 222.5,231.2C223.3,230.1 224,228.1 223.9,226.4C223.8,224.7 222.6,222.7 221.8,221C221,219.3 219.5,217.9 219.3,216.5C219.1,215.1 219.5,213.6 220.5,212.8C221.5,212 223.8,211.7 225.2,211.9C226.6,212.1 228,213.5 228.7,214.2C229.4,214.9 229.2,215.9 229.3,216.2" fill="none" stroke="#e8693a" stroke-width="5.1" stroke-linecap="round" stroke-linejoin="round"/><path d="M429.8,246.2 L428.8,247.5 L427.7,248.4 L426.5,249.1 L425.2,249.6 L423.7,249.9 L422.1,250 L420.4,249.9 L418.5,249.7 L416.5,249.3 L414.5,248.7 L412.3,248 L410,247 L407.7,245.9 L405.2,244.7 L402.7,243.2 L400,241.6 L397.2,239.7 L393.9,237.3 L390.6,234.9 L387.9,232.8 L385.5,230.8 L383.4,228.8 L381.4,226.9 L379.7,225 L378.1,223.1 L376.7,221.3 L375.5,219.5 L374.5,217.7 L373.7,216 L373.1,214.4 L372.7,212.8 L372.6,211.4 L372.6,209.9 L372.9,208.6 L373.5,207.3 L374.4,205.8 L375.4,204.5 L376.5,203.6 L377.7,202.9 L379,202.4 L380.5,202.1 L382.1,202 L383.8,202.1 L385.7,202.3 L387.7,202.7 L389.7,203.3 L391.9,204 L394.2,205 L396.5,206.1 L399,207.3 L401.5,208.8 L404.2,210.4 L407,212.3 L410.3,214.7 L413.6,217.1 L416.3,219.2 L418.7,221.2 L420.8,223.2 L422.8,225.1 L424.5,227 L426.1,228.9 L427.5,230.7 L428.7,232.5 L429.7,234.3 L430.5,236 L431.1,237.6 L431.5,239.2 L431.6,240.6 L431.6,242.1 L431.3,243.4 L430.7,244.7Z" fill="#f8c31b" stroke="#1d1f2b" stroke-width="1.8"/><path d="M381.9,207.7C381.6,208.4 380.3,210.5 380.1,211.9C379.9,213.3 380.1,215 380.7,216C381.3,217 382.5,217.8 383.7,217.8C384.9,217.8 386.4,216.7 387.8,216C389.2,215.3 390.7,213.9 392,213.7C393.3,213.5 394.7,214 395.5,214.8C396.3,215.6 396.8,217 396.7,218.4C396.6,219.8 395.3,221.7 394.9,223.1C394.4,224.5 393.9,225.7 394,227C394.1,228.3 394.6,230 395.5,230.8C396.4,231.6 398.2,231.8 399.7,231.6C401.2,231.3 402.8,230.3 404.5,229.3C406.2,228.3 408.2,226.2 409.8,225.7C411.4,225.2 413.1,225.5 414.2,226.3C415.2,227.1 416,229.1 416.1,230.7C416.2,232.3 415,234.1 414.8,235.7C414.6,237.3 414.4,238.8 414.8,240.1C415.2,241.3 416.2,242.8 417.3,243.2C418.4,243.6 420.2,243 421.1,242.6C422.1,242.2 422.7,241 423,240.7" fill="none" stroke="#e8693a" stroke-width="5.1" stroke-linecap="round" stroke-linejoin="round"/><path d="M467.3,373.3 L467.1,374.9 L466.8,376.2 L466.2,377.3 L465.3,378.4 L464.3,379.5 L463,380.4 L461.6,381.3 L459.9,382.1 L458.1,382.8 L456,383.5 L453.8,384.1 L451.4,384.5 L448.8,384.9 L446,385.3 L443.1,385.5 L440,385.6 L436.6,385.7 L432.5,385.6 L428.3,385.4 L424.9,385.2 L421.8,384.9 L418.9,384.5 L416.2,384.1 L413.6,383.5 L411.2,382.9 L409,382.3 L407,381.5 L405.2,380.7 L403.6,379.8 L402.2,378.8 L401,377.8 L400,376.7 L399.2,375.6 L398.7,374.4 L398.4,373.1 L398.3,371.5 L398.5,369.9 L398.8,368.6 L399.4,367.5 L400.3,366.4 L401.3,365.3 L402.6,364.4 L404,363.5 L405.7,362.7 L407.5,362 L409.6,361.3 L411.8,360.7 L414.2,360.3 L416.8,359.9 L419.6,359.5 L422.5,359.3 L425.6,359.2 L429,359.1 L433.1,359.2 L437.3,359.4 L440.7,359.6 L443.8,359.9 L446.7,360.3 L449.4,360.7 L452,361.3 L454.4,361.9 L456.6,362.5 L458.6,363.3 L460.4,364.1 L462,365 L463.4,366 L464.6,367 L465.6,368.1 L466.4,369.2 L466.9,370.4 L467.2,371.7Z" fill="#f8c31b" stroke="#1d1f2b" stroke-width="1.8"/><path d="M405.3,367.1C405.3,367.9 404.9,370.6 405.3,371.9C405.8,373.2 406.9,374.7 408,375.1C409.1,375.5 410.6,375.4 411.7,374.5C412.8,373.6 414.1,371.2 414.9,369.7C415.7,368.2 415.8,366.6 416.5,365.5C417.2,364.4 418.2,363.6 419.2,363.3C420.2,363 421.5,363.2 422.4,363.9C423.3,364.6 423.9,366.1 424.5,367.6C425.1,369.1 425.3,371.3 425.8,372.9C426.3,374.5 426.8,376.1 427.5,377C428.2,377.9 429.1,378.5 430.2,378.4C431.2,378.3 432.7,378 433.8,376.6C434.9,375.2 436,371.8 436.8,370C437.6,368.2 437.8,366.8 438.6,365.8C439.4,364.8 440.6,364.1 441.6,364C442.6,363.9 443.8,364.3 444.6,365.2C445.4,366.1 445.8,367.7 446.4,369.4C447,371.1 447.4,373.9 448.2,375.4C449,376.9 450.1,378 451.2,378.4C452.3,378.8 453.8,378.5 454.8,377.8C455.8,377.1 456.8,375.5 457.2,374.2C457.6,372.9 457.2,370.7 457.2,370" fill="none" stroke="#e8693a" stroke-width="5.1" stroke-linecap="round" stroke-linejoin="round"/><path d="M295,446.6 L294.1,448 L293.1,449 L292,449.8 L290.7,450.4 L289.2,450.9 L287.6,451.2 L285.8,451.3 L283.9,451.2 L281.9,451 L279.7,450.6 L277.4,450.1 L275,449.4 L272.4,448.5 L269.8,447.4 L267,446.2 L264.1,444.8 L261,443.2 L257.3,441.2 L253.6,439 L250.6,437.2 L247.9,435.4 L245.5,433.6 L243.3,431.8 L241.2,430.1 L239.4,428.4 L237.7,426.7 L236.3,425 L235,423.3 L234,421.7 L233.2,420.1 L232.6,418.6 L232.3,417.1 L232.1,415.7 L232.3,414.3 L232.6,412.9 L233.4,411.4 L234.3,410 L235.3,409 L236.4,408.2 L237.7,407.6 L239.2,407.1 L240.8,406.8 L242.6,406.7 L244.5,406.8 L246.5,407 L248.7,407.4 L251,407.9 L253.4,408.6 L256,409.5 L258.6,410.6 L261.4,411.8 L264.3,413.2 L267.4,414.8 L271.1,416.8 L274.8,419 L277.8,420.8 L280.5,422.6 L282.9,424.4 L285.1,426.2 L287.2,427.9 L289,429.6 L290.7,431.3 L292.1,433 L293.4,434.7 L294.4,436.3 L295.2,437.9 L295.8,439.4 L296.1,440.9 L296.3,442.3 L296.1,443.7 L295.8,445.1Z" fill="#f8c31b" stroke="#1d1f2b" stroke-width="1.8"/><path d="M242.3,411.9C242.1,412.6 241.1,414.8 241,416.3C240.9,417.8 241.1,419.6 241.6,420.7C242.1,421.8 243.1,423 244.2,423.2C245.2,423.4 246.8,422.6 247.9,421.9C249.1,421.2 250.1,419.7 251.1,418.8C252.1,417.9 253.2,416.5 254.2,416.3C255.2,416.1 256.5,416.7 257.3,417.5C258.1,418.3 258.9,420.1 259.2,421.3C259.5,422.6 259.1,423.5 259.3,425C259.5,426.5 259.8,428.9 260.5,430.3C261.2,431.7 262.3,432.9 263.5,433.2C264.7,433.5 266,433 267.5,432.3C269,431.6 270.9,429.5 272.4,428.8C273.8,428.1 275.2,427.9 276.2,428.2C277.1,428.5 277.8,429.4 278.1,430.7C278.4,431.9 278.2,434.1 278.1,435.7C278,437.3 277.4,438.7 277.6,440.1C277.8,441.5 278.4,443.2 279.3,443.9C280.2,444.6 282,444.8 283.1,444.5C284.2,444.2 285.5,442.8 286.2,442C286.9,441.2 287.3,439.9 287.5,439.5" fill="none" stroke="#e8693a" stroke-width="5.1" stroke-linecap="round" stroke-linejoin="round"/><path d="M311.7,170.1C313.9,170.1 317.1,170.3 319.6,171.5C322.1,172.7 324.6,174.8 326.7,177C328.8,179.2 330.9,182.4 331.9,184.9C332.9,187.4 332.9,189.6 332.6,192C332.3,194.4 331.4,197.1 329.9,199.1C328.4,201.1 325.7,202.9 323.6,203.9C321.5,204.9 319.7,205.2 317.3,205.1C314.9,205 312.2,204.5 309.4,203.1C306.6,201.7 302.8,199 300.7,196.8C298.6,194.6 297.3,192.1 296.7,189.7C296.1,187.3 296.3,185 297.1,182.6C297.9,180.2 300,177.3 301.5,175.5C303,173.7 304.5,172.4 306.2,171.5C307.9,170.6 309.5,170.1 311.7,170.1Z" fill="#4fb9c2" stroke="#1d1f2b" stroke-width="1.4"/><ellipse cx="438.8" cy="280.8" rx="7.2" ry="8.1" fill="#55669b" stroke="#2a2d45" stroke-width="1.1" transform="rotate(12 438.8 280.8)"/><ellipse cx="425.9" cy="321.7" rx="14.3" ry="11.2" fill="#4fb9c2" stroke="#243238" stroke-width="1.1" transform="rotate(48 425.9 321.7)"/><ellipse cx="462.3" cy="330" rx="12" ry="10.6" fill="#e6606e" stroke="#4a2630" stroke-width="1.1" transform="rotate(20 462.3 330)"/><ellipse cx="205.8" cy="283.3" rx="8.1" ry="9.3" fill="#ea596d"/><ellipse cx="313.6" cy="418" rx="10" ry="10" fill="#56669f" stroke="#2b2f4a" stroke-width="1.1"/><circle cx="198.3" cy="358.9" r="17" fill="#bcd2ea"/><path d="M198.3,358.9 L215.3,359.2 M198.3,358.9 L214.1,365.2 M198.3,358.9 L210.9,370.3 M198.3,358.9 L206,374.1 M198.3,358.9 L200.8,375.7 M198.3,358.9 L194.5,375.5 M198.3,358.9 L190.6,374.1 M198.3,358.9 L185.3,369.9 M198.3,358.9 L182,363.9 M198.3,358.9 L181.3,358.6 M198.3,358.9 L182.6,352.3 M198.3,358.9 L184.8,348.6 M198.3,358.9 L189.7,344.2 M198.3,358.9 L194.8,342.3 M198.3,358.9 L201.3,342.2 M198.3,358.9 L206.9,344.3 M198.3,358.9 L210.7,347.2 M198.3,358.9 L214.1,352.5" stroke="#5f7fa6" stroke-width="1.35" fill="none"/><circle cx="198.3" cy="358.9" r="2.5" fill="#6a88ad" opacity="0.35"/><circle cx="198.3" cy="358.9" r="17" fill="none" stroke="#26262e" stroke-width="1.6"/><path d="M354,401C356.7,400.3 364.6,398.5 370,397C375.4,395.5 383.8,392.8 386.5,391.9 M392,406C393.4,405.1 399.2,401.5 400.6,400.6 M395.5,422C397.8,420.4 404.8,416.3 409,412.5C413.2,408.7 419,401.2 421,399 M435,401.5C433.8,403.2 431.2,407.6 428,411.5C424.8,415.4 420.7,420.7 416,425C411.3,429.3 406,434.2 400,437.5C394,440.8 388.3,443 380,445C371.7,447 358.9,449 350,449.5C341.1,450 330.4,448.1 326.5,447.8 M348.6,418C351.5,417.5 360.4,416.3 366,415C371.6,413.7 379.5,411.1 382.2,410.3 M336.5,434.5C339.1,434.6 349.4,434.9 352,435 M359.4,433.7C362,433.2 370.1,432.4 375,431C379.9,429.6 386.4,426.4 388.7,425.5" fill="none" stroke="#c4592d" stroke-width="6.2" stroke-linecap="round"/><path d="M354,401C356.7,400.3 364.6,398.5 370,397C375.4,395.5 383.8,392.8 386.5,391.9 M392,406C393.4,405.1 399.2,401.5 400.6,400.6 M395.5,422C397.8,420.4 404.8,416.3 409,412.5C413.2,408.7 419,401.2 421,399 M435,401.5C433.8,403.2 431.2,407.6 428,411.5C424.8,415.4 420.7,420.7 416,425C411.3,429.3 406,434.2 400,437.5C394,440.8 388.3,443 380,445C371.7,447 358.9,449 350,449.5C341.1,450 330.4,448.1 326.5,447.8 M348.6,418C351.5,417.5 360.4,416.3 366,415C371.6,413.7 379.5,411.1 382.2,410.3 M336.5,434.5C339.1,434.6 349.4,434.9 352,435 M359.4,433.7C362,433.2 370.1,432.4 375,431C379.9,429.6 386.4,426.4 388.7,425.5" fill="none" stroke="#e9693a" stroke-width="5" stroke-linecap="round"/></g>
<g clip-path="url(#cc)"><path d="M138.3,316C138.2,310.7 138.3,305.4 138.6,300C138.9,294.6 139.5,289.2 140.2,283.9C140.9,278.6 141.9,273.3 143,268C144.1,262.7 145.4,257.4 146.8,252.2C148.2,246.9 149.8,241.7 151.6,236.5C153.4,231.3 155.3,226.2 157.6,221.1C159.8,216 162.3,211 165.1,206.2C167.9,201.4 170.9,196.6 174.3,192.1C177.7,187.6 181.4,183.3 185.3,179.3C189.2,175.3 193.5,171.6 197.9,168.2C202.3,164.8 207.2,161.6 212,158.8C216.8,156 221.9,153.6 227,151.5C232.1,149.4 237.5,147.6 242.8,146.1C248.1,144.6 253.5,143.5 258.8,142.5C264.1,141.5 269.6,140.8 274.9,140.2C280.2,139.6 285.5,139.3 290.8,139.1C296.1,138.9 301.3,138.8 306.5,138.9C311.7,139 316.9,139.4 322,139.9C327.1,140.4 332.2,141.1 337.2,142.2C342.2,143.3 347.1,144.7 351.9,146.4C356.7,148.1 361.3,150.1 365.8,152.4C370.3,154.7 374.6,157.3 378.8,160C383,162.7 386.9,165.6 390.8,168.5C394.7,171.4 398.3,174.5 402,177.4C405.7,180.3 409.3,183.2 413,186C416.7,188.8 420.3,191.7 424,194.5C427.7,197.3 431.4,200.1 435,203C438.6,205.9 442.2,208.9 445.8,212.1C449.4,215.2 453,218.5 456.4,221.9C459.8,225.3 463.1,228.9 466.3,232.7C469.5,236.4 472.6,240.4 475.6,244.4C478.6,248.4 481.5,252.5 484.2,256.9C486.9,261.2 489.5,265.8 491.9,270.5C494.2,275.2 496.5,279.9 498.3,284.9C500.1,289.8 501.7,295 502.9,300.2C504.1,305.4 504.9,310.7 505.4,316C505.9,321.3 506,326.7 505.9,332.1C505.8,337.5 505.4,342.8 504.8,348.2C504.2,353.6 503.4,358.9 502.4,364.3C501.4,369.7 500.2,375 498.9,380.4C497.6,385.8 496.1,391.1 494.4,396.4C492.6,401.7 490.7,407 488.4,412.1C486.1,417.2 483.5,422.3 480.5,427C477.5,431.7 474,436.3 470.3,440.5C466.6,444.7 462.5,448.6 458.2,452.2C453.9,455.8 449.1,459 444.4,461.9C439.6,464.8 434.7,467.4 429.7,469.8C424.7,472.2 419.6,474.3 414.5,476.2C409.4,478.1 404.2,479.8 399.1,481.4C394,483 388.9,484.5 383.8,485.8C378.7,487.1 373.6,488.3 368.5,489.4C363.4,490.5 358.2,491.5 353.1,492.3C348,493.1 342.8,493.8 337.6,494.2C332.4,494.6 327.2,494.9 322,494.9C316.8,494.9 311.6,494.7 306.4,494.1C301.2,493.5 296.1,492.6 291,491.5C285.9,490.4 281,489 276.1,487.4C271.2,485.8 266.4,484 261.6,482.1C256.8,480.2 252.1,478.1 247.4,476C242.7,473.9 238.1,471.7 233.4,469.4C228.8,467.1 224.1,464.9 219.5,462.4C214.9,459.9 210.3,457.3 205.8,454.5C201.3,451.7 196.8,448.7 192.6,445.4C188.4,442.1 184.2,438.5 180.5,434.7C176.8,430.9 173.3,426.7 170.2,422.3C167.1,417.9 164.2,413.2 161.7,408.5C159.1,403.8 156.9,398.8 154.9,393.9C152.9,388.9 151.1,383.9 149.5,378.8C147.9,373.7 146.5,368.6 145.2,363.4C143.9,358.2 142.8,353 141.8,347.8C140.8,342.6 140,337.3 139.4,332C138.8,326.7 138.4,321.3 138.3,316Z" fill="none" stroke="#1d1f2b" stroke-width="26.5"/><path d="M138.3,316C138.2,310.7 138.3,305.4 138.6,300C138.9,294.6 139.5,289.2 140.2,283.9C140.9,278.6 141.9,273.3 143,268C144.1,262.7 145.4,257.4 146.8,252.2C148.2,246.9 149.8,241.7 151.6,236.5C153.4,231.3 155.3,226.2 157.6,221.1C159.8,216 162.3,211 165.1,206.2C167.9,201.4 170.9,196.6 174.3,192.1C177.7,187.6 181.4,183.3 185.3,179.3C189.2,175.3 193.5,171.6 197.9,168.2C202.3,164.8 207.2,161.6 212,158.8C216.8,156 221.9,153.6 227,151.5C232.1,149.4 237.5,147.6 242.8,146.1C248.1,144.6 253.5,143.5 258.8,142.5C264.1,141.5 269.6,140.8 274.9,140.2C280.2,139.6 285.5,139.3 290.8,139.1C296.1,138.9 301.3,138.8 306.5,138.9C311.7,139 316.9,139.4 322,139.9C327.1,140.4 332.2,141.1 337.2,142.2C342.2,143.3 347.1,144.7 351.9,146.4C356.7,148.1 361.3,150.1 365.8,152.4C370.3,154.7 374.6,157.3 378.8,160C383,162.7 386.9,165.6 390.8,168.5C394.7,171.4 398.3,174.5 402,177.4C405.7,180.3 409.3,183.2 413,186C416.7,188.8 420.3,191.7 424,194.5C427.7,197.3 431.4,200.1 435,203C438.6,205.9 442.2,208.9 445.8,212.1C449.4,215.2 453,218.5 456.4,221.9C459.8,225.3 463.1,228.9 466.3,232.7C469.5,236.4 472.6,240.4 475.6,244.4C478.6,248.4 481.5,252.5 484.2,256.9C486.9,261.2 489.5,265.8 491.9,270.5C494.2,275.2 496.5,279.9 498.3,284.9C500.1,289.8 501.7,295 502.9,300.2C504.1,305.4 504.9,310.7 505.4,316C505.9,321.3 506,326.7 505.9,332.1C505.8,337.5 505.4,342.8 504.8,348.2C504.2,353.6 503.4,358.9 502.4,364.3C501.4,369.7 500.2,375 498.9,380.4C497.6,385.8 496.1,391.1 494.4,396.4C492.6,401.7 490.7,407 488.4,412.1C486.1,417.2 483.5,422.3 480.5,427C477.5,431.7 474,436.3 470.3,440.5C466.6,444.7 462.5,448.6 458.2,452.2C453.9,455.8 449.1,459 444.4,461.9C439.6,464.8 434.7,467.4 429.7,469.8C424.7,472.2 419.6,474.3 414.5,476.2C409.4,478.1 404.2,479.8 399.1,481.4C394,483 388.9,484.5 383.8,485.8C378.7,487.1 373.6,488.3 368.5,489.4C363.4,490.5 358.2,491.5 353.1,492.3C348,493.1 342.8,493.8 337.6,494.2C332.4,494.6 327.2,494.9 322,494.9C316.8,494.9 311.6,494.7 306.4,494.1C301.2,493.5 296.1,492.6 291,491.5C285.9,490.4 281,489 276.1,487.4C271.2,485.8 266.4,484 261.6,482.1C256.8,480.2 252.1,478.1 247.4,476C242.7,473.9 238.1,471.7 233.4,469.4C228.8,467.1 224.1,464.9 219.5,462.4C214.9,459.9 210.3,457.3 205.8,454.5C201.3,451.7 196.8,448.7 192.6,445.4C188.4,442.1 184.2,438.5 180.5,434.7C176.8,430.9 173.3,426.7 170.2,422.3C167.1,417.9 164.2,413.2 161.7,408.5C159.1,403.8 156.9,398.8 154.9,393.9C152.9,388.9 151.1,383.9 149.5,378.8C147.9,373.7 146.5,368.6 145.2,363.4C143.9,358.2 142.8,353 141.8,347.8C140.8,342.6 140,337.3 139.4,332C138.8,326.7 138.4,321.3 138.3,316Z" fill="none" stroke="#55669b" stroke-width="23"/></g><path d="M138.3,316C138.2,310.7 138.3,305.4 138.6,300C138.9,294.6 139.5,289.2 140.2,283.9C140.9,278.6 141.9,273.3 143,268C144.1,262.7 145.4,257.4 146.8,252.2C148.2,246.9 149.8,241.7 151.6,236.5C153.4,231.3 155.3,226.2 157.6,221.1C159.8,216 162.3,211 165.1,206.2C167.9,201.4 170.9,196.6 174.3,192.1C177.7,187.6 181.4,183.3 185.3,179.3C189.2,175.3 193.5,171.6 197.9,168.2C202.3,164.8 207.2,161.6 212,158.8C216.8,156 221.9,153.6 227,151.5C232.1,149.4 237.5,147.6 242.8,146.1C248.1,144.6 253.5,143.5 258.8,142.5C264.1,141.5 269.6,140.8 274.9,140.2C280.2,139.6 285.5,139.3 290.8,139.1C296.1,138.9 301.3,138.8 306.5,138.9C311.7,139 316.9,139.4 322,139.9C327.1,140.4 332.2,141.1 337.2,142.2C342.2,143.3 347.1,144.7 351.9,146.4C356.7,148.1 361.3,150.1 365.8,152.4C370.3,154.7 374.6,157.3 378.8,160C383,162.7 386.9,165.6 390.8,168.5C394.7,171.4 398.3,174.5 402,177.4C405.7,180.3 409.3,183.2 413,186C416.7,188.8 420.3,191.7 424,194.5C427.7,197.3 431.4,200.1 435,203C438.6,205.9 442.2,208.9 445.8,212.1C449.4,215.2 453,218.5 456.4,221.9C459.8,225.3 463.1,228.9 466.3,232.7C469.5,236.4 472.6,240.4 475.6,244.4C478.6,248.4 481.5,252.5 484.2,256.9C486.9,261.2 489.5,265.8 491.9,270.5C494.2,275.2 496.5,279.9 498.3,284.9C500.1,289.8 501.7,295 502.9,300.2C504.1,305.4 504.9,310.7 505.4,316C505.9,321.3 506,326.7 505.9,332.1C505.8,337.5 505.4,342.8 504.8,348.2C504.2,353.6 503.4,358.9 502.4,364.3C501.4,369.7 500.2,375 498.9,380.4C497.6,385.8 496.1,391.1 494.4,396.4C492.6,401.7 490.7,407 488.4,412.1C486.1,417.2 483.5,422.3 480.5,427C477.5,431.7 474,436.3 470.3,440.5C466.6,444.7 462.5,448.6 458.2,452.2C453.9,455.8 449.1,459 444.4,461.9C439.6,464.8 434.7,467.4 429.7,469.8C424.7,472.2 419.6,474.3 414.5,476.2C409.4,478.1 404.2,479.8 399.1,481.4C394,483 388.9,484.5 383.8,485.8C378.7,487.1 373.6,488.3 368.5,489.4C363.4,490.5 358.2,491.5 353.1,492.3C348,493.1 342.8,493.8 337.6,494.2C332.4,494.6 327.2,494.9 322,494.9C316.8,494.9 311.6,494.7 306.4,494.1C301.2,493.5 296.1,492.6 291,491.5C285.9,490.4 281,489 276.1,487.4C271.2,485.8 266.4,484 261.6,482.1C256.8,480.2 252.1,478.1 247.4,476C242.7,473.9 238.1,471.7 233.4,469.4C228.8,467.1 224.1,464.9 219.5,462.4C214.9,459.9 210.3,457.3 205.8,454.5C201.3,451.7 196.8,448.7 192.6,445.4C188.4,442.1 184.2,438.5 180.5,434.7C176.8,430.9 173.3,426.7 170.2,422.3C167.1,417.9 164.2,413.2 161.7,408.5C159.1,403.8 156.9,398.8 154.9,393.9C152.9,388.9 151.1,383.9 149.5,378.8C147.9,373.7 146.5,368.6 145.2,363.4C143.9,358.2 142.8,353 141.8,347.8C140.8,342.6 140,337.3 139.4,332C138.8,326.7 138.4,321.3 138.3,316Z" fill="none" stroke="#1d1f2b" stroke-width="2"/><g stroke="#555" stroke-width="0.9"><line x1="91" y1="143.2" x2="188.2" y2="177.1"/><line x1="128" y1="218.7" x2="190.7" y2="229.3"/><line x1="124" y1="295.5" x2="239.2" y2="285.3"/><line x1="124" y1="300" x2="264.2" y2="320.3"/><line x1="108" y1="417.3" x2="180.4" y2="355.3"/><line x1="153" y1="481.5" x2="306" y2="423"/><line x1="316.8" y1="470" x2="316.8" y2="512"/><line x1="248.4" y1="119.7" x2="314.5" y2="297.4"/><line x1="391.3" y1="126.7" x2="341.7" y2="314.3"/><line x1="484.7" y1="134.3" x2="386.3" y2="187.3"/><line x1="490.7" y1="134.3" x2="438.8" y2="232.7"/><line x1="494.7" y1="136.3" x2="467.9" y2="263.8"/><line x1="515" y1="251.3" x2="431.4" y2="322.7"/><line x1="467.7" y1="330.2" x2="519.5" y2="402.1"/><line x1="408" y1="439.3" x2="459.2" y2="472.1"/></g>
<g font-size="11.6" font-weight="bold" fill="#1a1a1a" stroke="#1a1a1a" stroke-width="0.3" opacity="0.999"><text x="223" y="113" textLength="44.4" lengthAdjust="spacingAndGlyphs">Nucleus</text><text x="379.4" y="117.3" textLength="23.6" lengthAdjust="spacingAndGlyphs">DNA</text><text x="461.6" y="130.1" textLength="56.4" lengthAdjust="spacingAndGlyphs">Ribosome</text><text x="63" y="139.3" textLength="86.4" lengthAdjust="spacingAndGlyphs">Cell Membrane</text><text x="48.6" y="222" textLength="71.4" lengthAdjust="spacingAndGlyphs">Mitochondria</text><text x="493.8" y="246.3" textLength="54.6" lengthAdjust="spacingAndGlyphs">Lysosome</text><text x="49.2" y="290.5" textLength="74" lengthAdjust="spacingAndGlyphs">Endoplasmic</text><text x="49.2" y="304" textLength="55.2" lengthAdjust="spacingAndGlyphs">reticulum</text><text x="498" y="415.5" textLength="45.2" lengthAdjust="spacingAndGlyphs">Vacuole</text><text x="51.6" y="424" textLength="50" lengthAdjust="spacingAndGlyphs">Centriole</text><text x="462.5" y="476.1" textLength="78.5" lengthAdjust="spacingAndGlyphs">Golgi complex</text><text x="118.5" y="495.2" textLength="63.6" lengthAdjust="spacingAndGlyphs">Peroxisome</text><text x="284" y="525" textLength="60.6" lengthAdjust="spacingAndGlyphs">Cytoplasm</text></g>
</svg>
</body></html>
